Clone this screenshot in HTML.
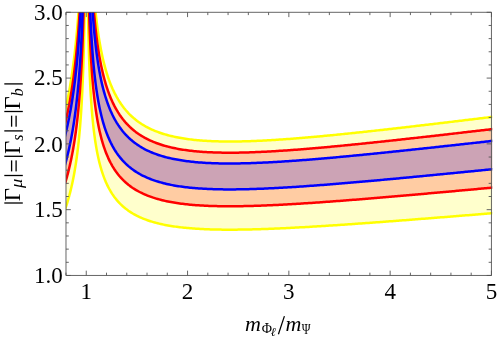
<!DOCTYPE html><html><head><meta charset="utf-8"><style>
html,body{margin:0;padding:0;background:#fff}
#w{position:relative;width:498px;height:340px;overflow:hidden;background:#fff;font-family:"Liberation Serif",serif;color:#000}
.t{position:absolute;white-space:nowrap;line-height:1;will-change:transform}
</style></head><body><div id="w">
<svg width="498" height="340" viewBox="0 0 498 340" style="position:absolute;left:0;top:0">
<defs><clipPath id="c"><rect x="65.99" y="12.30" width="426.26" height="263.16"/></clipPath></defs>
<g clip-path="url(#c)">
<path d="M63.96 115.97 L64.28 114.68 L64.59 113.37 L64.90 112.03 L65.21 110.67 L65.52 109.30 L65.83 107.89 L66.15 106.47 L66.46 105.02 L66.77 103.54 L67.08 102.04 L67.39 100.51 L67.70 98.95 L68.02 97.36 L68.33 95.74 L68.64 94.09 L68.95 92.41 L69.26 90.69 L69.57 88.94 L69.89 87.14 L70.20 85.31 L70.51 83.44 L70.82 81.53 L71.13 79.57 L71.44 77.57 L71.76 75.51 L72.07 73.41 L72.38 71.25 L72.69 69.03 L73.00 66.76 L73.31 64.42 L73.63 62.02 L73.94 59.55 L74.25 57.00 L74.56 54.38 L74.87 51.68 L75.18 48.88 L75.50 45.99 L75.81 43.01 L76.12 39.91 L76.52 35.73 L76.91 31.52 L77.29 27.27 L77.64 22.99 L77.99 18.68 L78.32 14.34 L78.63 9.96 L78.94 5.55 L79.23 1.11 L79.51 -3.38 L79.78 -7.89 L80.04 -12.45 L80.29 -17.04 L80.52 -21.68 L80.75 -26.35 L80.97 -31.06 L81.18 -35.81 L81.38 -40.60 L81.58 -45.44 L81.77 -50.32 L81.94 -55.24 L82.12 -60.21 L82.28 -65.22 L82.44 -66.65 L82.59 -66.65 L82.74 -66.65 L82.88 -66.65 L83.01 -66.65 L83.14 -66.65 L83.27 -66.65 L83.39 -66.65 L83.50 -66.65 L83.61 -66.65 L83.72 -66.65 L83.82 -66.65 L83.91 -66.65 L84.01 -66.65 L84.10 -66.65 L84.18 -66.65 L84.26 -66.65 L84.34 -66.65 L84.42 -66.65 L84.49 -66.65 L84.56 -66.65 L84.63 -66.65 L84.70 -66.65 L84.76 -66.65 L84.82 -66.65 L84.87 -66.65 L84.93 -66.65 L84.98 -66.65 L85.03 -66.65 L85.08 -66.65 L85.13 -66.65 L85.17 -66.65 L85.22 -66.65 L85.26 -66.65 L85.30 -66.65 L85.33 -66.65 L85.37 -66.65 L85.41 -66.65 L85.44 -66.65 L85.47 -66.65 L85.50 -66.65 L85.53 -66.65 L85.56 -66.65 L85.59 -66.65 L85.62 -66.65 L85.64 -66.65 L85.67 -66.65 L85.69 -66.65 L85.71 -66.65 L85.73 -66.65 L85.75 -66.65 L85.77 -66.65 L85.79 -66.65 L85.81 -66.65 L85.83 -66.65 L85.84 -66.65 L85.84 -66.65 L85.83 -66.65 L85.81 -66.65 L85.79 -66.65 L85.77 -66.65 L85.75 -66.65 L85.73 -66.65 L85.71 -66.65 L85.69 -66.65 L85.67 -66.65 L85.64 -66.65 L85.62 -66.65 L85.59 -66.65 L85.56 -66.65 L85.53 -66.65 L85.50 -66.65 L85.47 -66.65 L85.44 -66.65 L85.41 -62.64 L85.37 -57.78 L85.33 -52.97 L85.30 -48.21 L85.26 -43.50 L85.22 -38.84 L85.17 -34.22 L85.13 -29.66 L85.08 -25.14 L85.03 -20.66 L84.98 -16.23 L84.93 -11.85 L84.87 -7.51 L84.82 -3.21 L84.76 1.04 L84.70 5.25 L84.63 9.42 L84.56 13.54 L84.49 17.63 L84.42 21.68 L84.34 25.68 L84.26 29.65 L84.18 33.58 L84.10 37.47 L84.01 41.32 L83.91 45.13 L83.82 48.91 L83.72 52.66 L83.61 56.36 L83.50 60.03 L83.39 63.67 L83.27 67.27 L83.14 70.84 L83.01 74.38 L82.88 77.88 L82.74 81.35 L82.59 84.79 L82.44 88.20 L82.28 91.58 L82.12 94.93 L81.94 98.24 L81.77 101.53 L81.58 104.79 L81.38 108.02 L81.18 111.22 L80.97 114.40 L80.75 117.54 L80.52 120.66 L80.29 123.76 L80.04 126.83 L79.78 129.87 L79.51 132.89 L79.23 135.88 L78.94 138.85 L78.63 141.80 L78.32 144.72 L77.99 147.62 L77.64 150.50 L77.29 153.36 L76.91 156.19 L76.52 159.01 L76.12 161.80 L75.81 163.87 L75.50 165.87 L75.18 167.79 L74.87 169.66 L74.56 171.47 L74.25 173.22 L73.94 174.92 L73.63 176.57 L73.31 178.18 L73.00 179.74 L72.69 181.26 L72.38 182.74 L72.07 184.18 L71.76 185.58 L71.44 186.96 L71.13 188.29 L70.82 189.60 L70.51 190.88 L70.20 192.13 L69.89 193.35 L69.57 194.55 L69.26 195.72 L68.95 196.87 L68.64 197.99 L68.33 199.10 L68.02 200.18 L67.70 201.24 L67.39 202.28 L67.08 203.30 L66.77 204.31 L66.46 205.29 L66.15 206.26 L65.83 207.21 L65.52 208.15 L65.21 209.07 L64.90 209.98 L64.59 210.87 L64.28 211.75 L63.96 212.61Z M86.66 -66.65 L86.67 -66.65 L86.69 -66.65 L86.70 -66.65 L86.72 -66.65 L86.74 -66.65 L86.75 -66.65 L86.77 -66.65 L86.79 -66.65 L86.81 -66.65 L86.83 -66.65 L86.85 -66.65 L86.88 -66.65 L86.90 -66.65 L86.92 -66.65 L86.95 -66.65 L86.97 -66.65 L87.00 -66.65 L87.03 -66.65 L87.06 -66.65 L87.09 -66.65 L87.12 -66.65 L87.15 -66.65 L87.18 -66.65 L87.22 -66.65 L87.25 -66.65 L87.29 -66.65 L87.33 -66.65 L87.37 -66.65 L87.41 -66.65 L87.45 -66.65 L87.50 -66.65 L87.54 -66.65 L87.59 -66.65 L87.64 -66.65 L87.69 -66.65 L87.75 -66.65 L87.80 -66.65 L87.86 -66.65 L87.92 -66.65 L87.98 -66.65 L88.04 -66.65 L88.11 -66.65 L88.18 -66.65 L88.25 -66.65 L88.32 -66.65 L88.40 -66.65 L88.48 -66.65 L88.56 -66.65 L88.65 -66.65 L88.74 -66.65 L88.83 -66.65 L88.92 -66.65 L89.02 -66.65 L89.12 -66.65 L89.23 -66.65 L89.34 -66.65 L89.45 -66.65 L89.57 -66.65 L89.70 -66.65 L89.82 -66.65 L89.96 -66.65 L90.09 -66.65 L90.23 -66.65 L90.38 -66.65 L90.53 -66.17 L90.69 -62.11 L90.86 -58.08 L91.03 -54.10 L91.20 -50.16 L91.39 -46.26 L91.58 -42.41 L91.77 -38.59 L91.98 -34.81 L92.19 -31.08 L92.41 -27.38 L92.64 -23.72 L92.87 -20.11 L93.12 -16.53 L93.37 -13.00 L93.63 -9.50 L93.91 -6.04 L94.19 -2.62 L94.48 0.76 L94.79 4.10 L95.10 7.40 L95.43 10.67 L95.77 13.89 L96.12 17.08 L96.48 20.23 L96.86 23.34 L97.25 26.41 L97.66 29.44 L98.08 32.44 L98.52 35.39 L98.97 38.31 L99.44 41.19 L99.93 44.04 L100.44 46.84 L100.96 49.61 L101.50 52.34 L102.07 55.03 L102.65 57.68 L103.26 60.29 L103.89 62.87 L104.54 65.41 L105.21 67.91 L105.91 70.37 L106.64 72.80 L107.39 75.18 L108.17 77.53 L108.98 79.84 L109.82 82.11 L110.69 84.34 L111.60 86.53 L112.53 88.69 L113.51 90.80 L114.51 92.88 L115.56 94.91 L116.64 96.91 L118.11 99.45 L119.57 101.80 L121.04 104.00 L122.51 106.05 L123.97 107.98 L125.44 109.78 L126.91 111.47 L128.37 113.06 L129.84 114.57 L131.31 115.98 L132.77 117.32 L134.24 118.58 L135.71 119.78 L137.17 120.91 L138.64 121.98 L140.11 123.00 L141.57 123.97 L143.04 124.89 L144.51 125.76 L145.97 126.59 L147.44 127.38 L148.91 128.13 L150.37 128.84 L151.84 129.52 L153.31 130.17 L154.77 130.79 L156.24 131.38 L157.71 131.94 L159.17 132.48 L160.64 132.99 L162.11 133.48 L163.57 133.94 L165.04 134.39 L166.51 134.81 L167.97 135.21 L169.44 135.60 L170.91 135.96 L172.37 136.31 L173.84 136.64 L175.31 136.96 L176.77 137.26 L178.24 137.55 L179.71 137.82 L181.17 138.08 L182.64 138.33 L184.11 138.56 L185.57 138.78 L187.04 138.99 L188.51 139.19 L189.97 139.38 L191.44 139.56 L192.91 139.73 L194.38 139.89 L195.84 140.04 L197.31 140.18 L198.78 140.31 L200.24 140.44 L201.71 140.55 L203.18 140.66 L204.64 140.76 L206.11 140.85 L207.58 140.94 L209.04 141.02 L210.51 141.09 L211.98 141.16 L213.44 141.22 L214.91 141.27 L216.38 141.32 L217.84 141.36 L219.31 141.40 L220.78 141.43 L222.24 141.45 L223.71 141.47 L225.18 141.49 L226.64 141.50 L228.11 141.51 L229.58 141.51 L231.04 141.51 L232.51 141.50 L233.98 141.49 L235.44 141.48 L236.91 141.46 L238.38 141.44 L239.84 141.41 L241.31 141.38 L242.78 141.35 L244.24 141.31 L245.71 141.27 L247.18 141.23 L248.64 141.18 L250.11 141.13 L251.58 141.08 L253.04 141.03 L254.51 140.97 L255.98 140.91 L257.44 140.84 L258.91 140.78 L260.38 140.71 L261.84 140.64 L263.31 140.56 L264.78 140.49 L266.24 140.41 L267.71 140.33 L269.18 140.25 L270.64 140.16 L272.11 140.07 L273.58 139.99 L275.04 139.89 L276.51 139.80 L277.98 139.71 L279.44 139.61 L280.91 139.51 L282.38 139.41 L283.84 139.31 L285.31 139.20 L286.78 139.10 L288.24 138.99 L289.71 138.88 L291.18 138.77 L292.64 138.66 L294.11 138.54 L295.58 138.43 L297.04 138.31 L298.51 138.19 L299.98 138.07 L301.44 137.95 L302.91 137.83 L304.38 137.71 L305.84 137.58 L307.31 137.46 L308.78 137.33 L310.24 137.20 L311.71 137.07 L313.18 136.94 L314.64 136.81 L316.11 136.68 L317.58 136.54 L319.04 136.41 L320.51 136.27 L321.98 136.14 L323.44 136.00 L324.91 135.86 L326.38 135.72 L327.84 135.58 L329.31 135.44 L330.78 135.30 L332.24 135.15 L333.71 135.01 L335.18 134.87 L336.64 134.72 L338.11 134.57 L339.58 134.43 L341.04 134.28 L342.51 134.13 L343.98 133.98 L345.45 133.83 L346.91 133.68 L348.38 133.53 L349.85 133.38 L351.31 133.22 L352.78 133.07 L354.25 132.92 L355.71 132.76 L357.18 132.61 L358.65 132.45 L360.11 132.30 L361.58 132.14 L363.05 131.98 L364.51 131.82 L365.98 131.67 L367.45 131.51 L368.91 131.35 L370.38 131.19 L371.85 131.03 L373.31 130.87 L374.78 130.71 L376.25 130.54 L377.71 130.38 L379.18 130.22 L380.65 130.06 L382.11 129.89 L383.58 129.73 L385.05 129.56 L386.51 129.40 L387.98 129.23 L389.45 129.07 L390.91 128.90 L392.38 128.74 L393.85 128.57 L395.31 128.40 L396.78 128.24 L398.25 128.07 L399.71 127.90 L401.18 127.73 L402.65 127.56 L404.11 127.40 L405.58 127.23 L407.05 127.06 L408.51 126.89 L409.98 126.72 L411.45 126.55 L412.91 126.38 L414.38 126.21 L415.85 126.03 L417.31 125.86 L418.78 125.69 L420.25 125.52 L421.71 125.35 L423.18 125.18 L424.65 125.00 L426.11 124.83 L427.58 124.66 L429.05 124.49 L430.51 124.31 L431.98 124.14 L433.45 123.97 L434.91 123.79 L436.38 123.62 L437.85 123.44 L439.31 123.27 L440.78 123.10 L442.25 122.92 L443.71 122.75 L445.18 122.57 L446.65 122.40 L448.11 122.22 L449.58 122.05 L451.05 121.87 L452.51 121.69 L453.98 121.52 L455.45 121.34 L456.91 121.17 L458.38 120.99 L459.85 120.81 L461.31 120.64 L462.78 120.46 L464.25 120.28 L465.71 120.11 L467.18 119.93 L468.65 119.75 L470.11 119.58 L471.58 119.40 L473.05 119.22 L474.51 119.05 L475.98 118.87 L477.45 118.69 L478.91 118.51 L480.38 118.34 L481.85 118.16 L483.31 117.98 L484.78 117.80 L486.25 117.62 L487.71 117.45 L489.18 117.27 L490.65 117.09 L492.11 116.91 L493.58 116.73 L495.05 116.56 L496.51 116.38 L496.51 212.88 L495.05 213.00 L493.58 213.12 L492.11 213.24 L490.65 213.36 L489.18 213.48 L487.71 213.59 L486.25 213.71 L484.78 213.83 L483.31 213.95 L481.85 214.07 L480.38 214.19 L478.91 214.31 L477.45 214.43 L475.98 214.54 L474.51 214.66 L473.05 214.78 L471.58 214.90 L470.11 215.02 L468.65 215.14 L467.18 215.25 L465.71 215.37 L464.25 215.49 L462.78 215.61 L461.31 215.73 L459.85 215.84 L458.38 215.96 L456.91 216.08 L455.45 216.20 L453.98 216.31 L452.51 216.43 L451.05 216.55 L449.58 216.67 L448.11 216.78 L446.65 216.90 L445.18 217.02 L443.71 217.13 L442.25 217.25 L440.78 217.37 L439.31 217.48 L437.85 217.60 L436.38 217.72 L434.91 217.83 L433.45 217.95 L431.98 218.07 L430.51 218.18 L429.05 218.30 L427.58 218.41 L426.11 218.53 L424.65 218.64 L423.18 218.76 L421.71 218.87 L420.25 218.99 L418.78 219.10 L417.31 219.22 L415.85 219.33 L414.38 219.45 L412.91 219.56 L411.45 219.67 L409.98 219.79 L408.51 219.90 L407.05 220.01 L405.58 220.13 L404.11 220.24 L402.65 220.35 L401.18 220.47 L399.71 220.58 L398.25 220.69 L396.78 220.80 L395.31 220.91 L393.85 221.03 L392.38 221.14 L390.91 221.25 L389.45 221.36 L387.98 221.47 L386.51 221.58 L385.05 221.69 L383.58 221.80 L382.11 221.91 L380.65 222.02 L379.18 222.13 L377.71 222.24 L376.25 222.34 L374.78 222.45 L373.31 222.56 L371.85 222.67 L370.38 222.77 L368.91 222.88 L367.45 222.99 L365.98 223.09 L364.51 223.20 L363.05 223.30 L361.58 223.41 L360.11 223.51 L358.65 223.62 L357.18 223.72 L355.71 223.83 L354.25 223.93 L352.78 224.03 L351.31 224.13 L349.85 224.24 L348.38 224.34 L346.91 224.44 L345.45 224.54 L343.98 224.64 L342.51 224.74 L341.04 224.84 L339.58 224.94 L338.11 225.04 L336.64 225.13 L335.18 225.23 L333.71 225.33 L332.24 225.42 L330.78 225.52 L329.31 225.61 L327.84 225.71 L326.38 225.80 L324.91 225.90 L323.44 225.99 L321.98 226.08 L320.51 226.17 L319.04 226.26 L317.58 226.35 L316.11 226.44 L314.64 226.53 L313.18 226.62 L311.71 226.70 L310.24 226.79 L308.78 226.88 L307.31 226.96 L305.84 227.05 L304.38 227.13 L302.91 227.21 L301.44 227.29 L299.98 227.37 L298.51 227.45 L297.04 227.53 L295.58 227.61 L294.11 227.69 L292.64 227.76 L291.18 227.84 L289.71 227.91 L288.24 227.98 L286.78 228.06 L285.31 228.13 L283.84 228.20 L282.38 228.27 L280.91 228.33 L279.44 228.40 L277.98 228.46 L276.51 228.53 L275.04 228.59 L273.58 228.65 L272.11 228.71 L270.64 228.77 L269.18 228.83 L267.71 228.88 L266.24 228.93 L264.78 228.99 L263.31 229.04 L261.84 229.09 L260.38 229.13 L258.91 229.18 L257.44 229.22 L255.98 229.27 L254.51 229.31 L253.04 229.35 L251.58 229.38 L250.11 229.42 L248.64 229.45 L247.18 229.48 L245.71 229.51 L244.24 229.54 L242.78 229.56 L241.31 229.58 L239.84 229.60 L238.38 229.62 L236.91 229.64 L235.44 229.65 L233.98 229.66 L232.51 229.66 L231.04 229.67 L229.58 229.67 L228.11 229.67 L226.64 229.66 L225.18 229.66 L223.71 229.65 L222.24 229.63 L220.78 229.61 L219.31 229.59 L217.84 229.57 L216.38 229.54 L214.91 229.51 L213.44 229.47 L211.98 229.43 L210.51 229.39 L209.04 229.34 L207.58 229.29 L206.11 229.23 L204.64 229.17 L203.18 229.10 L201.71 229.03 L200.24 228.95 L198.78 228.87 L197.31 228.78 L195.84 228.69 L194.38 228.59 L192.91 228.48 L191.44 228.37 L189.97 228.25 L188.51 228.12 L187.04 227.99 L185.57 227.85 L184.11 227.70 L182.64 227.54 L181.17 227.38 L179.71 227.21 L178.24 227.02 L176.77 226.83 L175.31 226.63 L173.84 226.42 L172.37 226.20 L170.91 225.96 L169.44 225.72 L167.97 225.46 L166.51 225.19 L165.04 224.91 L163.57 224.61 L162.11 224.30 L160.64 223.98 L159.17 223.64 L157.71 223.28 L156.24 222.90 L154.77 222.51 L153.31 222.10 L151.84 221.66 L150.37 221.21 L148.91 220.73 L147.44 220.23 L145.97 219.70 L144.51 219.15 L143.04 218.56 L141.57 217.95 L140.11 217.30 L138.64 216.62 L137.17 215.91 L135.71 215.15 L134.24 214.35 L132.77 213.51 L131.31 212.62 L129.84 211.67 L128.37 210.67 L126.91 209.60 L125.44 208.47 L123.97 207.27 L122.51 205.98 L121.04 204.61 L119.57 203.14 L118.11 201.57 L116.64 199.88 L115.56 198.54 L114.51 197.18 L113.51 195.80 L112.53 194.38 L111.60 192.95 L110.69 191.48 L109.82 189.99 L108.98 188.47 L108.17 186.93 L107.39 185.36 L106.64 183.77 L105.91 182.15 L105.21 180.51 L104.54 178.84 L103.89 177.14 L103.26 175.42 L102.65 173.67 L102.07 171.90 L101.50 170.10 L100.96 168.28 L100.44 166.43 L99.93 164.56 L99.44 162.66 L98.97 160.73 L98.52 158.78 L98.08 156.81 L97.66 154.81 L97.25 152.78 L96.86 150.73 L96.48 148.65 L96.12 146.55 L95.77 144.42 L95.43 142.27 L95.10 140.09 L94.79 137.88 L94.48 135.65 L94.19 133.39 L93.91 131.11 L93.63 128.80 L93.37 126.46 L93.12 124.10 L92.87 121.71 L92.64 119.29 L92.41 116.85 L92.19 114.38 L91.98 111.89 L91.77 109.36 L91.58 106.81 L91.39 104.24 L91.20 101.63 L91.03 99.00 L90.86 96.34 L90.69 93.65 L90.53 90.94 L90.38 88.20 L90.23 85.43 L90.09 82.63 L89.96 79.80 L89.82 76.94 L89.70 74.06 L89.57 71.14 L89.45 68.20 L89.34 65.23 L89.23 62.22 L89.12 59.19 L89.02 56.13 L88.92 53.04 L88.83 49.92 L88.74 46.77 L88.65 43.58 L88.56 40.37 L88.48 37.13 L88.40 33.85 L88.32 30.55 L88.25 27.21 L88.18 23.84 L88.11 20.44 L88.04 17.00 L87.98 13.54 L87.92 10.04 L87.86 6.51 L87.80 2.95 L87.75 -0.65 L87.69 -4.28 L87.64 -7.94 L87.59 -11.64 L87.54 -15.37 L87.50 -19.14 L87.45 -22.94 L87.41 -26.77 L87.37 -30.64 L87.33 -34.54 L87.29 -38.48 L87.25 -42.46 L87.22 -46.47 L87.18 -50.51 L87.15 -54.59 L87.12 -58.71 L87.09 -62.87 L87.06 -66.65 L87.03 -66.65 L87.00 -66.65 L86.97 -66.65 L86.95 -66.65 L86.92 -66.65 L86.90 -66.65 L86.88 -66.65 L86.85 -66.65 L86.83 -66.65 L86.81 -66.65 L86.79 -66.65 L86.77 -66.65 L86.75 -66.65 L86.74 -66.65 L86.72 -66.65 L86.70 -66.65 L86.69 -66.65 L86.67 -66.65 L86.66 -66.65Z" fill="#ffff00" fill-opacity="0.2"/>
<path d="M63.96 128.23 L64.28 127.00 L64.59 125.74 L64.90 124.46 L65.21 123.16 L65.52 121.84 L65.83 120.49 L66.15 119.13 L66.46 117.74 L66.77 116.32 L67.08 114.88 L67.39 113.42 L67.70 111.93 L68.02 110.41 L68.33 108.85 L68.64 107.27 L68.95 105.66 L69.26 104.01 L69.57 102.33 L69.89 100.62 L70.20 98.87 L70.51 97.07 L70.82 95.24 L71.13 93.36 L71.44 91.44 L71.76 89.48 L72.07 87.46 L72.38 85.39 L72.69 83.27 L73.00 81.09 L73.31 78.86 L73.63 76.55 L73.94 74.19 L74.25 71.75 L74.56 69.24 L74.87 66.64 L75.18 63.97 L75.50 61.20 L75.81 58.34 L76.12 55.38 L76.52 51.37 L76.91 47.33 L77.29 43.27 L77.64 39.17 L77.99 35.04 L78.32 30.88 L78.63 26.69 L78.94 22.46 L79.23 18.20 L79.51 13.91 L79.78 9.58 L80.04 5.22 L80.29 0.82 L80.52 -3.62 L80.75 -8.09 L80.97 -12.61 L81.18 -17.16 L81.38 -21.75 L81.58 -26.38 L81.77 -31.05 L81.94 -35.77 L82.12 -40.52 L82.28 -45.32 L82.44 -50.17 L82.59 -55.05 L82.74 -59.99 L82.88 -64.96 L83.01 -66.65 L83.14 -66.65 L83.27 -66.65 L83.39 -66.65 L83.50 -66.65 L83.61 -66.65 L83.72 -66.65 L83.82 -66.65 L83.91 -66.65 L84.01 -66.65 L84.10 -66.65 L84.18 -66.65 L84.26 -66.65 L84.34 -66.65 L84.42 -66.65 L84.49 -66.65 L84.56 -66.65 L84.63 -66.65 L84.70 -66.65 L84.76 -66.65 L84.82 -66.65 L84.87 -66.65 L84.93 -66.65 L84.98 -66.65 L85.03 -66.65 L85.08 -66.65 L85.13 -66.65 L85.17 -66.65 L85.22 -66.65 L85.26 -66.65 L85.30 -66.65 L85.33 -66.65 L85.37 -66.65 L85.41 -66.65 L85.44 -66.65 L85.47 -66.65 L85.50 -66.65 L85.53 -66.65 L85.56 -66.65 L85.59 -66.65 L85.62 -66.65 L85.64 -66.65 L85.67 -66.65 L85.69 -66.65 L85.71 -66.65 L85.73 -66.65 L85.75 -66.65 L85.77 -66.65 L85.79 -66.65 L85.81 -66.65 L85.83 -66.65 L85.84 -66.65 L85.84 -66.65 L85.83 -66.65 L85.81 -66.65 L85.79 -66.65 L85.77 -66.65 L85.75 -66.65 L85.73 -66.65 L85.71 -66.65 L85.69 -66.65 L85.67 -66.65 L85.64 -66.65 L85.62 -66.65 L85.59 -66.65 L85.56 -66.65 L85.53 -66.65 L85.50 -66.65 L85.47 -66.65 L85.44 -66.65 L85.41 -66.65 L85.37 -66.65 L85.33 -66.65 L85.30 -66.65 L85.26 -66.65 L85.22 -66.65 L85.17 -66.65 L85.13 -66.65 L85.08 -66.65 L85.03 -66.65 L84.98 -66.65 L84.93 -66.65 L84.87 -62.25 L84.82 -57.39 L84.76 -52.57 L84.70 -47.81 L84.63 -43.09 L84.56 -38.42 L84.49 -33.79 L84.42 -29.21 L84.34 -24.68 L84.26 -20.19 L84.18 -15.74 L84.10 -11.33 L84.01 -6.97 L83.91 -2.65 L83.82 1.62 L83.72 5.86 L83.61 10.06 L83.50 14.21 L83.39 18.33 L83.27 22.41 L83.14 26.45 L83.01 30.45 L82.88 34.42 L82.74 38.35 L82.59 42.24 L82.44 46.10 L82.28 49.92 L82.12 53.71 L81.94 57.47 L81.77 61.19 L81.58 64.88 L81.38 68.53 L81.18 72.16 L80.97 75.75 L80.75 79.31 L80.52 82.85 L80.29 86.35 L80.04 89.82 L79.78 93.27 L79.51 96.69 L79.23 100.08 L78.94 103.44 L78.63 106.77 L78.32 110.08 L77.99 113.37 L77.64 116.63 L77.29 119.86 L76.91 123.07 L76.52 126.26 L76.12 129.42 L75.81 131.76 L75.50 134.02 L75.18 136.20 L74.87 138.32 L74.56 140.36 L74.25 142.35 L73.94 144.27 L73.63 146.14 L73.31 147.96 L73.00 149.72 L72.69 151.44 L72.38 153.12 L72.07 154.75 L71.76 156.34 L71.44 157.89 L71.13 159.41 L70.82 160.89 L70.51 162.34 L70.20 163.75 L69.89 165.14 L69.57 166.49 L69.26 167.82 L68.95 169.12 L68.64 170.39 L68.33 171.64 L68.02 172.86 L67.70 174.06 L67.39 175.24 L67.08 176.40 L66.77 177.54 L66.46 178.65 L66.15 179.75 L65.83 180.83 L65.52 181.89 L65.21 182.93 L64.90 183.96 L64.59 184.97 L64.28 185.96 L63.96 186.94Z M86.66 -66.65 L86.67 -66.65 L86.69 -66.65 L86.70 -66.65 L86.72 -66.65 L86.74 -66.65 L86.75 -66.65 L86.77 -66.65 L86.79 -66.65 L86.81 -66.65 L86.83 -66.65 L86.85 -66.65 L86.88 -66.65 L86.90 -66.65 L86.92 -66.65 L86.95 -66.65 L86.97 -66.65 L87.00 -66.65 L87.03 -66.65 L87.06 -66.65 L87.09 -66.65 L87.12 -66.65 L87.15 -66.65 L87.18 -66.65 L87.22 -66.65 L87.25 -66.65 L87.29 -66.65 L87.33 -66.65 L87.37 -66.65 L87.41 -66.65 L87.45 -66.65 L87.50 -66.65 L87.54 -66.65 L87.59 -66.65 L87.64 -66.65 L87.69 -66.65 L87.75 -66.65 L87.80 -66.65 L87.86 -66.65 L87.92 -66.65 L87.98 -66.65 L88.04 -66.65 L88.11 -66.65 L88.18 -66.65 L88.25 -66.65 L88.32 -66.65 L88.40 -66.65 L88.48 -66.65 L88.56 -66.65 L88.65 -66.65 L88.74 -66.65 L88.83 -66.65 L88.92 -66.65 L89.02 -66.65 L89.12 -66.65 L89.23 -66.65 L89.34 -66.65 L89.45 -66.65 L89.57 -66.65 L89.70 -66.65 L89.82 -66.31 L89.96 -62.22 L90.09 -58.16 L90.23 -54.15 L90.38 -50.17 L90.53 -46.24 L90.69 -42.35 L90.86 -38.49 L91.03 -34.68 L91.20 -30.91 L91.39 -27.17 L91.58 -23.48 L91.77 -19.82 L91.98 -16.20 L92.19 -12.62 L92.41 -9.08 L92.64 -5.58 L92.87 -2.12 L93.12 1.31 L93.37 4.70 L93.63 8.05 L93.91 11.36 L94.19 14.63 L94.48 17.87 L94.79 21.07 L95.10 24.24 L95.43 27.36 L95.77 30.45 L96.12 33.50 L96.48 36.52 L96.86 39.50 L97.25 42.44 L97.66 45.35 L98.08 48.21 L98.52 51.05 L98.97 53.84 L99.44 56.60 L99.93 59.33 L100.44 62.01 L100.96 64.66 L101.50 67.28 L102.07 69.85 L102.65 72.40 L103.26 74.90 L103.89 77.37 L104.54 79.80 L105.21 82.20 L105.91 84.55 L106.64 86.88 L107.39 89.16 L108.17 91.41 L108.98 93.62 L109.82 95.80 L110.69 97.93 L111.60 100.03 L112.53 102.10 L113.51 104.12 L114.51 106.11 L115.56 108.06 L116.64 109.97 L118.11 112.40 L119.57 114.66 L121.04 116.76 L122.51 118.73 L123.97 120.57 L125.44 122.30 L126.91 123.92 L128.37 125.45 L129.84 126.88 L131.31 128.24 L132.77 129.52 L134.24 130.73 L135.71 131.88 L137.17 132.96 L138.64 133.99 L140.11 134.96 L141.57 135.89 L143.04 136.77 L144.51 137.61 L145.97 138.40 L147.44 139.16 L148.91 139.88 L150.37 140.56 L151.84 141.21 L153.31 141.84 L154.77 142.43 L156.24 142.99 L157.71 143.53 L159.17 144.04 L160.64 144.53 L162.11 145.00 L163.57 145.45 L165.04 145.87 L166.51 146.28 L167.97 146.66 L169.44 147.03 L170.91 147.38 L172.37 147.71 L173.84 148.03 L175.31 148.34 L176.77 148.63 L178.24 148.90 L179.71 149.16 L181.17 149.41 L182.64 149.65 L184.11 149.87 L185.57 150.08 L187.04 150.28 L188.51 150.48 L189.97 150.66 L191.44 150.83 L192.91 150.99 L194.38 151.14 L195.84 151.29 L197.31 151.42 L198.78 151.55 L200.24 151.67 L201.71 151.78 L203.18 151.88 L204.64 151.98 L206.11 152.06 L207.58 152.15 L209.04 152.22 L210.51 152.29 L211.98 152.36 L213.44 152.41 L214.91 152.46 L216.38 152.51 L217.84 152.55 L219.31 152.59 L220.78 152.62 L222.24 152.64 L223.71 152.66 L225.18 152.68 L226.64 152.69 L228.11 152.69 L229.58 152.70 L231.04 152.69 L232.51 152.69 L233.98 152.68 L235.44 152.66 L236.91 152.65 L238.38 152.63 L239.84 152.60 L241.31 152.57 L242.78 152.54 L244.24 152.51 L245.71 152.47 L247.18 152.43 L248.64 152.38 L250.11 152.33 L251.58 152.28 L253.04 152.23 L254.51 152.18 L255.98 152.12 L257.44 152.06 L258.91 151.99 L260.38 151.93 L261.84 151.86 L263.31 151.79 L264.78 151.72 L266.24 151.64 L267.71 151.56 L269.18 151.48 L270.64 151.40 L272.11 151.32 L273.58 151.23 L275.04 151.15 L276.51 151.06 L277.98 150.97 L279.44 150.87 L280.91 150.78 L282.38 150.68 L283.84 150.58 L285.31 150.48 L286.78 150.38 L288.24 150.28 L289.71 150.17 L291.18 150.07 L292.64 149.96 L294.11 149.85 L295.58 149.74 L297.04 149.63 L298.51 149.52 L299.98 149.40 L301.44 149.29 L302.91 149.17 L304.38 149.05 L305.84 148.93 L307.31 148.81 L308.78 148.69 L310.24 148.57 L311.71 148.44 L313.18 148.32 L314.64 148.19 L316.11 148.07 L317.58 147.94 L319.04 147.81 L320.51 147.68 L321.98 147.55 L323.44 147.42 L324.91 147.28 L326.38 147.15 L327.84 147.01 L329.31 146.88 L330.78 146.74 L332.24 146.61 L333.71 146.47 L335.18 146.33 L336.64 146.19 L338.11 146.05 L339.58 145.91 L341.04 145.77 L342.51 145.63 L343.98 145.48 L345.45 145.34 L346.91 145.19 L348.38 145.05 L349.85 144.90 L351.31 144.76 L352.78 144.61 L354.25 144.46 L355.71 144.32 L357.18 144.17 L358.65 144.02 L360.11 143.87 L361.58 143.72 L363.05 143.57 L364.51 143.42 L365.98 143.26 L367.45 143.11 L368.91 142.96 L370.38 142.81 L371.85 142.65 L373.31 142.50 L374.78 142.34 L376.25 142.19 L377.71 142.03 L379.18 141.88 L380.65 141.72 L382.11 141.57 L383.58 141.41 L385.05 141.25 L386.51 141.09 L387.98 140.94 L389.45 140.78 L390.91 140.62 L392.38 140.46 L393.85 140.30 L395.31 140.14 L396.78 139.98 L398.25 139.82 L399.71 139.66 L401.18 139.50 L402.65 139.34 L404.11 139.17 L405.58 139.01 L407.05 138.85 L408.51 138.69 L409.98 138.52 L411.45 138.36 L412.91 138.20 L414.38 138.03 L415.85 137.87 L417.31 137.71 L418.78 137.54 L420.25 137.38 L421.71 137.21 L423.18 137.05 L424.65 136.88 L426.11 136.72 L427.58 136.55 L429.05 136.39 L430.51 136.22 L431.98 136.06 L433.45 135.89 L434.91 135.72 L436.38 135.56 L437.85 135.39 L439.31 135.22 L440.78 135.06 L442.25 134.89 L443.71 134.72 L445.18 134.55 L446.65 134.39 L448.11 134.22 L449.58 134.05 L451.05 133.88 L452.51 133.71 L453.98 133.54 L455.45 133.38 L456.91 133.21 L458.38 133.04 L459.85 132.87 L461.31 132.70 L462.78 132.53 L464.25 132.36 L465.71 132.19 L467.18 132.02 L468.65 131.85 L470.11 131.69 L471.58 131.52 L473.05 131.35 L474.51 131.18 L475.98 131.01 L477.45 130.84 L478.91 130.67 L480.38 130.50 L481.85 130.33 L483.31 130.16 L484.78 129.98 L486.25 129.81 L487.71 129.64 L489.18 129.47 L490.65 129.30 L492.11 129.13 L493.58 128.96 L495.05 128.79 L496.51 128.62 L496.51 187.24 L495.05 187.38 L493.58 187.51 L492.11 187.65 L490.65 187.78 L489.18 187.92 L487.71 188.05 L486.25 188.19 L484.78 188.32 L483.31 188.45 L481.85 188.59 L480.38 188.72 L478.91 188.86 L477.45 188.99 L475.98 189.13 L474.51 189.26 L473.05 189.39 L471.58 189.53 L470.11 189.66 L468.65 189.80 L467.18 189.93 L465.71 190.06 L464.25 190.20 L462.78 190.33 L461.31 190.46 L459.85 190.60 L458.38 190.73 L456.91 190.86 L455.45 191.00 L453.98 191.13 L452.51 191.26 L451.05 191.40 L449.58 191.53 L448.11 191.66 L446.65 191.79 L445.18 191.93 L443.71 192.06 L442.25 192.19 L440.78 192.32 L439.31 192.45 L437.85 192.59 L436.38 192.72 L434.91 192.85 L433.45 192.98 L431.98 193.11 L430.51 193.24 L429.05 193.37 L427.58 193.50 L426.11 193.64 L424.65 193.77 L423.18 193.90 L421.71 194.03 L420.25 194.16 L418.78 194.29 L417.31 194.42 L415.85 194.55 L414.38 194.67 L412.91 194.80 L411.45 194.93 L409.98 195.06 L408.51 195.19 L407.05 195.32 L405.58 195.45 L404.11 195.57 L402.65 195.70 L401.18 195.83 L399.71 195.96 L398.25 196.08 L396.78 196.21 L395.31 196.34 L393.85 196.46 L392.38 196.59 L390.91 196.71 L389.45 196.84 L387.98 196.96 L386.51 197.09 L385.05 197.21 L383.58 197.34 L382.11 197.46 L380.65 197.59 L379.18 197.71 L377.71 197.83 L376.25 197.95 L374.78 198.08 L373.31 198.20 L371.85 198.32 L370.38 198.44 L368.91 198.56 L367.45 198.68 L365.98 198.80 L364.51 198.92 L363.05 199.04 L361.58 199.16 L360.11 199.28 L358.65 199.40 L357.18 199.52 L355.71 199.63 L354.25 199.75 L352.78 199.87 L351.31 199.98 L349.85 200.10 L348.38 200.21 L346.91 200.33 L345.45 200.44 L343.98 200.55 L342.51 200.67 L341.04 200.78 L339.58 200.89 L338.11 201.00 L336.64 201.11 L335.18 201.22 L333.71 201.33 L332.24 201.44 L330.78 201.55 L329.31 201.66 L327.84 201.76 L326.38 201.87 L324.91 201.98 L323.44 202.08 L321.98 202.18 L320.51 202.29 L319.04 202.39 L317.58 202.49 L316.11 202.59 L314.64 202.69 L313.18 202.79 L311.71 202.89 L310.24 202.99 L308.78 203.09 L307.31 203.18 L305.84 203.28 L304.38 203.37 L302.91 203.47 L301.44 203.56 L299.98 203.65 L298.51 203.74 L297.04 203.83 L295.58 203.92 L294.11 204.00 L292.64 204.09 L291.18 204.17 L289.71 204.26 L288.24 204.34 L286.78 204.42 L285.31 204.50 L283.84 204.58 L282.38 204.66 L280.91 204.73 L279.44 204.81 L277.98 204.88 L276.51 204.96 L275.04 205.03 L273.58 205.09 L272.11 205.16 L270.64 205.23 L269.18 205.29 L267.71 205.36 L266.24 205.42 L264.78 205.48 L263.31 205.53 L261.84 205.59 L260.38 205.64 L258.91 205.69 L257.44 205.74 L255.98 205.79 L254.51 205.84 L253.04 205.88 L251.58 205.92 L250.11 205.96 L248.64 206.00 L247.18 206.04 L245.71 206.07 L244.24 206.10 L242.78 206.13 L241.31 206.15 L239.84 206.17 L238.38 206.19 L236.91 206.21 L235.44 206.22 L233.98 206.23 L232.51 206.24 L231.04 206.25 L229.58 206.25 L228.11 206.25 L226.64 206.24 L225.18 206.23 L223.71 206.22 L222.24 206.21 L220.78 206.19 L219.31 206.16 L217.84 206.13 L216.38 206.10 L214.91 206.07 L213.44 206.03 L211.98 205.98 L210.51 205.93 L209.04 205.88 L207.58 205.82 L206.11 205.75 L204.64 205.68 L203.18 205.60 L201.71 205.52 L200.24 205.44 L198.78 205.34 L197.31 205.24 L195.84 205.14 L194.38 205.02 L192.91 204.90 L191.44 204.77 L189.97 204.64 L188.51 204.50 L187.04 204.35 L185.57 204.19 L184.11 204.02 L182.64 203.84 L181.17 203.65 L179.71 203.46 L178.24 203.25 L176.77 203.04 L175.31 202.81 L173.84 202.57 L172.37 202.32 L170.91 202.05 L169.44 201.78 L167.97 201.49 L166.51 201.18 L165.04 200.86 L163.57 200.53 L162.11 200.17 L160.64 199.81 L159.17 199.42 L157.71 199.01 L156.24 198.59 L154.77 198.14 L153.31 197.68 L151.84 197.18 L150.37 196.67 L148.91 196.13 L147.44 195.56 L145.97 194.96 L144.51 194.34 L143.04 193.68 L141.57 192.98 L140.11 192.25 L138.64 191.48 L137.17 190.67 L135.71 189.81 L134.24 188.91 L132.77 187.95 L131.31 186.94 L129.84 185.87 L128.37 184.74 L126.91 183.53 L125.44 182.25 L123.97 180.89 L122.51 179.44 L121.04 177.88 L119.57 176.22 L118.11 174.44 L116.64 172.52 L115.56 171.01 L114.51 169.47 L113.51 167.90 L112.53 166.30 L111.60 164.68 L110.69 163.02 L109.82 161.33 L108.98 159.61 L108.17 157.87 L107.39 156.09 L106.64 154.29 L105.91 152.45 L105.21 150.59 L104.54 148.70 L103.89 146.78 L103.26 144.83 L102.65 142.86 L102.07 140.85 L101.50 138.81 L100.96 136.75 L100.44 134.66 L99.93 132.54 L99.44 130.39 L98.97 128.21 L98.52 126.00 L98.08 123.77 L97.66 121.50 L97.25 119.21 L96.86 116.89 L96.48 114.53 L96.12 112.15 L95.77 109.74 L95.43 107.30 L95.10 104.84 L94.79 102.34 L94.48 99.81 L94.19 97.26 L93.91 94.67 L93.63 92.06 L93.37 89.41 L93.12 86.74 L92.87 84.03 L92.64 81.30 L92.41 78.53 L92.19 75.74 L91.98 72.91 L91.77 70.06 L91.58 67.17 L91.39 64.25 L91.20 61.31 L91.03 58.33 L90.86 55.32 L90.69 52.27 L90.53 49.20 L90.38 46.09 L90.23 42.96 L90.09 39.79 L89.96 36.59 L89.82 33.35 L89.70 30.09 L89.57 26.79 L89.45 23.46 L89.34 20.09 L89.23 16.69 L89.12 13.26 L89.02 9.79 L88.92 6.29 L88.83 2.76 L88.74 -0.81 L88.65 -4.41 L88.56 -8.05 L88.48 -11.72 L88.40 -15.43 L88.32 -19.17 L88.25 -22.95 L88.18 -26.76 L88.11 -30.61 L88.04 -34.50 L87.98 -38.42 L87.92 -42.38 L87.86 -46.38 L87.80 -50.41 L87.75 -54.49 L87.69 -58.59 L87.64 -62.74 L87.59 -66.65 L87.54 -66.65 L87.50 -66.65 L87.45 -66.65 L87.41 -66.65 L87.37 -66.65 L87.33 -66.65 L87.29 -66.65 L87.25 -66.65 L87.22 -66.65 L87.18 -66.65 L87.15 -66.65 L87.12 -66.65 L87.09 -66.65 L87.06 -66.65 L87.03 -66.65 L87.00 -66.65 L86.97 -66.65 L86.95 -66.65 L86.92 -66.65 L86.90 -66.65 L86.88 -66.65 L86.85 -66.65 L86.83 -66.65 L86.81 -66.65 L86.79 -66.65 L86.77 -66.65 L86.75 -66.65 L86.74 -66.65 L86.72 -66.65 L86.70 -66.65 L86.69 -66.65 L86.67 -66.65 L86.66 -66.65Z" fill="#ff0000" fill-opacity="0.2"/>
<path d="M63.96 140.06 L64.28 138.87 L64.59 137.67 L64.90 136.44 L65.21 135.20 L65.52 133.94 L65.83 132.65 L66.15 131.34 L66.46 130.01 L66.77 128.66 L67.08 127.28 L67.39 125.87 L67.70 124.45 L68.02 122.99 L68.33 121.50 L68.64 119.99 L68.95 118.45 L69.26 116.87 L69.57 115.26 L69.89 113.62 L70.20 111.94 L70.51 110.22 L70.82 108.47 L71.13 106.67 L71.44 104.83 L71.76 102.95 L72.07 101.02 L72.38 99.04 L72.69 97.01 L73.00 94.92 L73.31 92.78 L73.63 90.57 L73.94 88.31 L74.25 85.97 L74.56 83.57 L74.87 81.08 L75.18 78.52 L75.50 75.87 L75.81 73.13 L76.12 70.30 L76.52 66.46 L76.91 62.59 L77.29 58.70 L77.64 54.77 L77.99 50.82 L78.32 46.84 L78.63 42.82 L78.94 38.78 L79.23 34.70 L79.51 30.59 L79.78 26.44 L80.04 22.27 L80.29 18.05 L80.52 13.80 L80.75 9.52 L80.97 5.20 L81.18 0.84 L81.38 -3.56 L81.58 -8.00 L81.77 -12.47 L81.94 -16.98 L82.12 -21.54 L82.28 -26.13 L82.44 -30.77 L82.59 -35.45 L82.74 -40.17 L82.88 -44.94 L83.01 -49.75 L83.14 -54.61 L83.27 -59.51 L83.39 -64.46 L83.50 -66.65 L83.61 -66.65 L83.72 -66.65 L83.82 -66.65 L83.91 -66.65 L84.01 -66.65 L84.10 -66.65 L84.18 -66.65 L84.26 -66.65 L84.34 -66.65 L84.42 -66.65 L84.49 -66.65 L84.56 -66.65 L84.63 -66.65 L84.70 -66.65 L84.76 -66.65 L84.82 -66.65 L84.87 -66.65 L84.93 -66.65 L84.98 -66.65 L85.03 -66.65 L85.08 -66.65 L85.13 -66.65 L85.17 -66.65 L85.22 -66.65 L85.26 -66.65 L85.30 -66.65 L85.33 -66.65 L85.37 -66.65 L85.41 -66.65 L85.44 -66.65 L85.47 -66.65 L85.50 -66.65 L85.53 -66.65 L85.56 -66.65 L85.59 -66.65 L85.62 -66.65 L85.64 -66.65 L85.67 -66.65 L85.69 -66.65 L85.71 -66.65 L85.73 -66.65 L85.75 -66.65 L85.77 -66.65 L85.79 -66.65 L85.81 -66.65 L85.83 -66.65 L85.84 -66.65 L85.84 -66.65 L85.83 -66.65 L85.81 -66.65 L85.79 -66.65 L85.77 -66.65 L85.75 -66.65 L85.73 -66.65 L85.71 -66.65 L85.69 -66.65 L85.67 -66.65 L85.64 -66.65 L85.62 -66.65 L85.59 -66.65 L85.56 -66.65 L85.53 -66.65 L85.50 -66.65 L85.47 -66.65 L85.44 -66.65 L85.41 -66.65 L85.37 -66.65 L85.33 -66.65 L85.30 -66.65 L85.26 -66.65 L85.22 -66.65 L85.17 -66.65 L85.13 -66.65 L85.08 -66.65 L85.03 -66.65 L84.98 -66.65 L84.93 -66.65 L84.87 -66.65 L84.82 -66.65 L84.76 -66.65 L84.70 -66.65 L84.63 -66.65 L84.56 -66.65 L84.49 -66.65 L84.42 -65.80 L84.34 -60.89 L84.26 -56.02 L84.18 -51.20 L84.10 -46.43 L84.01 -41.70 L83.91 -37.02 L83.82 -32.38 L83.72 -27.79 L83.61 -23.24 L83.50 -18.74 L83.39 -14.27 L83.27 -9.85 L83.14 -5.47 L83.01 -1.14 L82.88 3.16 L82.74 7.42 L82.59 11.64 L82.44 15.82 L82.28 19.97 L82.12 24.07 L81.94 28.14 L81.77 32.18 L81.58 36.18 L81.38 40.14 L81.18 44.07 L80.97 47.96 L80.75 51.83 L80.52 55.65 L80.29 59.45 L80.04 63.22 L79.78 66.95 L79.51 70.65 L79.23 74.33 L78.94 77.97 L78.63 81.59 L78.32 85.17 L77.99 88.73 L77.64 92.27 L77.29 95.77 L76.91 99.25 L76.52 102.71 L76.12 106.14 L75.81 108.67 L75.50 111.12 L75.18 113.48 L74.87 115.77 L74.56 117.99 L74.25 120.14 L73.94 122.23 L73.63 124.26 L73.31 126.22 L73.00 128.14 L72.69 130.00 L72.38 131.82 L72.07 133.59 L71.76 135.31 L71.44 137.00 L71.13 138.64 L70.82 140.24 L70.51 141.81 L70.20 143.35 L69.89 144.85 L69.57 146.31 L69.26 147.75 L68.95 149.16 L68.64 150.54 L68.33 151.89 L68.02 153.22 L67.70 154.52 L67.39 155.80 L67.08 157.05 L66.77 158.28 L66.46 159.49 L66.15 160.68 L65.83 161.85 L65.52 163.00 L65.21 164.13 L64.90 165.24 L64.59 166.34 L64.28 167.42 L63.96 168.48Z M86.66 -66.65 L86.67 -66.65 L86.69 -66.65 L86.70 -66.65 L86.72 -66.65 L86.74 -66.65 L86.75 -66.65 L86.77 -66.65 L86.79 -66.65 L86.81 -66.65 L86.83 -66.65 L86.85 -66.65 L86.88 -66.65 L86.90 -66.65 L86.92 -66.65 L86.95 -66.65 L86.97 -66.65 L87.00 -66.65 L87.03 -66.65 L87.06 -66.65 L87.09 -66.65 L87.12 -66.65 L87.15 -66.65 L87.18 -66.65 L87.22 -66.65 L87.25 -66.65 L87.29 -66.65 L87.33 -66.65 L87.37 -66.65 L87.41 -66.65 L87.45 -66.65 L87.50 -66.65 L87.54 -66.65 L87.59 -66.65 L87.64 -66.65 L87.69 -66.65 L87.75 -66.65 L87.80 -66.65 L87.86 -66.65 L87.92 -66.65 L87.98 -66.65 L88.04 -66.65 L88.11 -66.65 L88.18 -66.65 L88.25 -66.65 L88.32 -66.65 L88.40 -66.65 L88.48 -66.65 L88.56 -66.65 L88.65 -66.65 L88.74 -66.65 L88.83 -66.65 L88.92 -66.65 L89.02 -66.65 L89.12 -66.65 L89.23 -66.44 L89.34 -62.32 L89.45 -58.24 L89.57 -54.20 L89.70 -50.19 L89.82 -46.23 L89.96 -42.31 L90.09 -38.43 L90.23 -34.58 L90.38 -30.78 L90.53 -27.01 L90.69 -23.28 L90.86 -19.59 L91.03 -15.94 L91.20 -12.33 L91.39 -8.75 L91.58 -5.21 L91.77 -1.71 L91.98 1.75 L92.19 5.18 L92.41 8.57 L92.64 11.92 L92.87 15.24 L93.12 18.52 L93.37 21.76 L93.63 24.97 L93.91 28.14 L94.19 31.28 L94.48 34.38 L94.79 37.45 L95.10 40.47 L95.43 43.47 L95.77 46.43 L96.12 49.35 L96.48 52.24 L96.86 55.09 L97.25 57.91 L97.66 60.69 L98.08 63.44 L98.52 66.15 L98.97 68.83 L99.44 71.47 L99.93 74.08 L100.44 76.65 L100.96 79.19 L101.50 81.69 L102.07 84.16 L102.65 86.59 L103.26 88.99 L103.89 91.35 L104.54 93.68 L105.21 95.98 L105.91 98.23 L106.64 100.46 L107.39 102.65 L108.17 104.80 L108.98 106.92 L109.82 109.00 L110.69 111.05 L111.60 113.06 L112.53 115.03 L113.51 116.97 L114.51 118.88 L115.56 120.74 L116.64 122.58 L118.11 124.90 L119.57 127.06 L121.04 129.08 L122.51 130.96 L123.97 132.72 L125.44 134.38 L126.91 135.93 L128.37 137.39 L129.84 138.77 L131.31 140.07 L132.77 141.29 L134.24 142.45 L135.71 143.55 L137.17 144.59 L138.64 145.57 L140.11 146.51 L141.57 147.39 L143.04 148.23 L144.51 149.04 L145.97 149.80 L147.44 150.52 L148.91 151.21 L150.37 151.87 L151.84 152.49 L153.31 153.09 L154.77 153.65 L156.24 154.19 L157.71 154.71 L159.17 155.20 L160.64 155.67 L162.11 156.12 L163.57 156.54 L165.04 156.95 L166.51 157.34 L167.97 157.71 L169.44 158.06 L170.91 158.40 L172.37 158.72 L173.84 159.02 L175.31 159.31 L176.77 159.59 L178.24 159.85 L179.71 160.10 L181.17 160.34 L182.64 160.57 L184.11 160.78 L185.57 160.98 L187.04 161.18 L188.51 161.36 L189.97 161.53 L191.44 161.70 L192.91 161.85 L194.38 162.00 L195.84 162.13 L197.31 162.26 L198.78 162.38 L200.24 162.50 L201.71 162.60 L203.18 162.70 L204.64 162.80 L206.11 162.88 L207.58 162.96 L209.04 163.03 L210.51 163.10 L211.98 163.16 L213.44 163.21 L214.91 163.26 L216.38 163.31 L217.84 163.35 L219.31 163.38 L220.78 163.41 L222.24 163.43 L223.71 163.45 L225.18 163.47 L226.64 163.48 L228.11 163.48 L229.58 163.49 L231.04 163.48 L232.51 163.48 L233.98 163.47 L235.44 163.45 L236.91 163.44 L238.38 163.42 L239.84 163.39 L241.31 163.37 L242.78 163.34 L244.24 163.30 L245.71 163.27 L247.18 163.23 L248.64 163.18 L250.11 163.14 L251.58 163.09 L253.04 163.04 L254.51 162.99 L255.98 162.93 L257.44 162.87 L258.91 162.81 L260.38 162.75 L261.84 162.68 L263.31 162.62 L264.78 162.55 L266.24 162.48 L267.71 162.40 L269.18 162.33 L270.64 162.25 L272.11 162.17 L273.58 162.09 L275.04 162.00 L276.51 161.92 L277.98 161.83 L279.44 161.74 L280.91 161.65 L282.38 161.56 L283.84 161.46 L285.31 161.37 L286.78 161.27 L288.24 161.17 L289.71 161.07 L291.18 160.97 L292.64 160.87 L294.11 160.76 L295.58 160.66 L297.04 160.55 L298.51 160.44 L299.98 160.33 L301.44 160.22 L302.91 160.11 L304.38 160.00 L305.84 159.88 L307.31 159.77 L308.78 159.65 L310.24 159.53 L311.71 159.41 L313.18 159.29 L314.64 159.17 L316.11 159.05 L317.58 158.93 L319.04 158.81 L320.51 158.68 L321.98 158.56 L323.44 158.43 L324.91 158.30 L326.38 158.17 L327.84 158.05 L329.31 157.92 L330.78 157.79 L332.24 157.65 L333.71 157.52 L335.18 157.39 L336.64 157.26 L338.11 157.12 L339.58 156.99 L341.04 156.85 L342.51 156.72 L343.98 156.58 L345.45 156.44 L346.91 156.30 L348.38 156.16 L349.85 156.02 L351.31 155.88 L352.78 155.74 L354.25 155.60 L355.71 155.46 L357.18 155.32 L358.65 155.18 L360.11 155.03 L361.58 154.89 L363.05 154.74 L364.51 154.60 L365.98 154.45 L367.45 154.31 L368.91 154.16 L370.38 154.02 L371.85 153.87 L373.31 153.72 L374.78 153.57 L376.25 153.42 L377.71 153.28 L379.18 153.13 L380.65 152.98 L382.11 152.83 L383.58 152.68 L385.05 152.53 L386.51 152.38 L387.98 152.22 L389.45 152.07 L390.91 151.92 L392.38 151.77 L393.85 151.61 L395.31 151.46 L396.78 151.31 L398.25 151.15 L399.71 151.00 L401.18 150.85 L402.65 150.69 L404.11 150.54 L405.58 150.38 L407.05 150.23 L408.51 150.07 L409.98 149.92 L411.45 149.76 L412.91 149.60 L414.38 149.45 L415.85 149.29 L417.31 149.13 L418.78 148.98 L420.25 148.82 L421.71 148.66 L423.18 148.50 L424.65 148.34 L426.11 148.19 L427.58 148.03 L429.05 147.87 L430.51 147.71 L431.98 147.55 L433.45 147.39 L434.91 147.23 L436.38 147.07 L437.85 146.91 L439.31 146.75 L440.78 146.59 L442.25 146.43 L443.71 146.27 L445.18 146.11 L446.65 145.95 L448.11 145.79 L449.58 145.63 L451.05 145.47 L452.51 145.31 L453.98 145.15 L455.45 144.99 L456.91 144.82 L458.38 144.66 L459.85 144.50 L461.31 144.34 L462.78 144.18 L464.25 144.01 L465.71 143.85 L467.18 143.69 L468.65 143.53 L470.11 143.37 L471.58 143.20 L473.05 143.04 L474.51 142.88 L475.98 142.72 L477.45 142.55 L478.91 142.39 L480.38 142.23 L481.85 142.06 L483.31 141.90 L484.78 141.74 L486.25 141.57 L487.71 141.41 L489.18 141.25 L490.65 141.08 L492.11 140.92 L493.58 140.76 L495.05 140.59 L496.51 140.43 L496.51 168.81 L495.05 168.95 L493.58 169.10 L492.11 169.24 L490.65 169.39 L489.18 169.54 L487.71 169.68 L486.25 169.83 L484.78 169.97 L483.31 170.12 L481.85 170.27 L480.38 170.41 L478.91 170.56 L477.45 170.70 L475.98 170.85 L474.51 170.99 L473.05 171.14 L471.58 171.28 L470.11 171.43 L468.65 171.57 L467.18 171.72 L465.71 171.86 L464.25 172.01 L462.78 172.15 L461.31 172.30 L459.85 172.44 L458.38 172.59 L456.91 172.73 L455.45 172.88 L453.98 173.02 L452.51 173.16 L451.05 173.31 L449.58 173.45 L448.11 173.60 L446.65 173.74 L445.18 173.88 L443.71 174.03 L442.25 174.17 L440.78 174.31 L439.31 174.46 L437.85 174.60 L436.38 174.74 L434.91 174.88 L433.45 175.03 L431.98 175.17 L430.51 175.31 L429.05 175.45 L427.58 175.59 L426.11 175.74 L424.65 175.88 L423.18 176.02 L421.71 176.16 L420.25 176.30 L418.78 176.44 L417.31 176.58 L415.85 176.72 L414.38 176.86 L412.91 177.00 L411.45 177.14 L409.98 177.28 L408.51 177.42 L407.05 177.56 L405.58 177.70 L404.11 177.84 L402.65 177.97 L401.18 178.11 L399.71 178.25 L398.25 178.39 L396.78 178.53 L395.31 178.66 L393.85 178.80 L392.38 178.94 L390.91 179.07 L389.45 179.21 L387.98 179.34 L386.51 179.48 L385.05 179.61 L383.58 179.75 L382.11 179.88 L380.65 180.02 L379.18 180.15 L377.71 180.28 L376.25 180.42 L374.78 180.55 L373.31 180.68 L371.85 180.81 L370.38 180.94 L368.91 181.08 L367.45 181.21 L365.98 181.34 L364.51 181.47 L363.05 181.60 L361.58 181.73 L360.11 181.85 L358.65 181.98 L357.18 182.11 L355.71 182.24 L354.25 182.36 L352.78 182.49 L351.31 182.61 L349.85 182.74 L348.38 182.86 L346.91 182.99 L345.45 183.11 L343.98 183.23 L342.51 183.36 L341.04 183.48 L339.58 183.60 L338.11 183.72 L336.64 183.84 L335.18 183.96 L333.71 184.08 L332.24 184.20 L330.78 184.31 L329.31 184.43 L327.84 184.55 L326.38 184.66 L324.91 184.78 L323.44 184.89 L321.98 185.00 L320.51 185.11 L319.04 185.22 L317.58 185.34 L316.11 185.44 L314.64 185.55 L313.18 185.66 L311.71 185.77 L310.24 185.87 L308.78 185.98 L307.31 186.08 L305.84 186.19 L304.38 186.29 L302.91 186.39 L301.44 186.49 L299.98 186.59 L298.51 186.69 L297.04 186.78 L295.58 186.88 L294.11 186.97 L292.64 187.07 L291.18 187.16 L289.71 187.25 L288.24 187.34 L286.78 187.43 L285.31 187.51 L283.84 187.60 L282.38 187.68 L280.91 187.77 L279.44 187.85 L277.98 187.93 L276.51 188.00 L275.04 188.08 L273.58 188.16 L272.11 188.23 L270.64 188.30 L269.18 188.37 L267.71 188.44 L266.24 188.50 L264.78 188.57 L263.31 188.63 L261.84 188.69 L260.38 188.75 L258.91 188.81 L257.44 188.86 L255.98 188.91 L254.51 188.96 L253.04 189.01 L251.58 189.05 L250.11 189.10 L248.64 189.14 L247.18 189.18 L245.71 189.21 L244.24 189.24 L242.78 189.27 L241.31 189.30 L239.84 189.32 L238.38 189.35 L236.91 189.36 L235.44 189.38 L233.98 189.39 L232.51 189.40 L231.04 189.40 L229.58 189.41 L228.11 189.40 L226.64 189.40 L225.18 189.39 L223.71 189.38 L222.24 189.36 L220.78 189.34 L219.31 189.31 L217.84 189.28 L216.38 189.25 L214.91 189.21 L213.44 189.16 L211.98 189.12 L210.51 189.06 L209.04 189.00 L207.58 188.94 L206.11 188.87 L204.64 188.79 L203.18 188.71 L201.71 188.62 L200.24 188.52 L198.78 188.42 L197.31 188.31 L195.84 188.20 L194.38 188.08 L192.91 187.95 L191.44 187.81 L189.97 187.66 L188.51 187.51 L187.04 187.34 L185.57 187.17 L184.11 186.99 L182.64 186.80 L181.17 186.60 L179.71 186.38 L178.24 186.16 L176.77 185.92 L175.31 185.68 L173.84 185.42 L172.37 185.14 L170.91 184.86 L169.44 184.56 L167.97 184.24 L166.51 183.91 L165.04 183.57 L163.57 183.20 L162.11 182.82 L160.64 182.42 L159.17 182.00 L157.71 181.56 L156.24 181.10 L154.77 180.62 L153.31 180.11 L151.84 179.58 L150.37 179.02 L148.91 178.44 L147.44 177.82 L145.97 177.17 L144.51 176.49 L143.04 175.78 L141.57 175.03 L140.11 174.23 L138.64 173.40 L137.17 172.52 L135.71 171.59 L134.24 170.61 L132.77 169.58 L131.31 168.48 L129.84 167.32 L128.37 166.09 L126.91 164.79 L125.44 163.40 L123.97 161.92 L122.51 160.34 L121.04 158.66 L119.57 156.86 L118.11 154.93 L116.64 152.85 L115.56 151.21 L114.51 149.55 L113.51 147.84 L112.53 146.11 L111.60 144.35 L110.69 142.55 L109.82 140.72 L108.98 138.86 L108.17 136.97 L107.39 135.04 L106.64 133.09 L105.91 131.10 L105.21 129.08 L104.54 127.03 L103.89 124.95 L103.26 122.84 L102.65 120.70 L102.07 118.52 L101.50 116.32 L100.96 114.08 L100.44 111.81 L99.93 109.51 L99.44 107.18 L98.97 104.82 L98.52 102.43 L98.08 100.01 L97.66 97.55 L97.25 95.06 L96.86 92.55 L96.48 90.00 L96.12 87.42 L95.77 84.81 L95.43 82.16 L95.10 79.49 L94.79 76.78 L94.48 74.04 L94.19 71.27 L93.91 68.47 L93.63 65.64 L93.37 62.77 L93.12 59.87 L92.87 56.94 L92.64 53.97 L92.41 50.98 L92.19 47.95 L91.98 44.89 L91.77 41.79 L91.58 38.66 L91.39 35.50 L91.20 32.31 L91.03 29.08 L90.86 25.81 L90.69 22.52 L90.53 19.18 L90.38 15.82 L90.23 12.42 L90.09 8.98 L89.96 5.51 L89.82 2.01 L89.70 -1.53 L89.57 -5.11 L89.45 -8.72 L89.34 -12.37 L89.23 -16.05 L89.12 -19.77 L89.02 -23.53 L88.92 -27.32 L88.83 -31.15 L88.74 -35.02 L88.65 -38.92 L88.56 -42.86 L88.48 -46.84 L88.40 -50.86 L88.32 -54.92 L88.25 -59.02 L88.18 -63.15 L88.11 -66.65 L88.04 -66.65 L87.98 -66.65 L87.92 -66.65 L87.86 -66.65 L87.80 -66.65 L87.75 -66.65 L87.69 -66.65 L87.64 -66.65 L87.59 -66.65 L87.54 -66.65 L87.50 -66.65 L87.45 -66.65 L87.41 -66.65 L87.37 -66.65 L87.33 -66.65 L87.29 -66.65 L87.25 -66.65 L87.22 -66.65 L87.18 -66.65 L87.15 -66.65 L87.12 -66.65 L87.09 -66.65 L87.06 -66.65 L87.03 -66.65 L87.00 -66.65 L86.97 -66.65 L86.95 -66.65 L86.92 -66.65 L86.90 -66.65 L86.88 -66.65 L86.85 -66.65 L86.83 -66.65 L86.81 -66.65 L86.79 -66.65 L86.77 -66.65 L86.75 -66.65 L86.74 -66.65 L86.72 -66.65 L86.70 -66.65 L86.69 -66.65 L86.67 -66.65 L86.66 -66.65Z" fill="#0000ff" fill-opacity="0.2"/>
<path d="M63.96 115.97 L64.28 114.68 L64.59 113.37 L64.90 112.03 L65.21 110.67 L65.52 109.30 L65.83 107.89 L66.15 106.47 L66.46 105.02 L66.77 103.54 L67.08 102.04 L67.39 100.51 L67.70 98.95 L68.02 97.36 L68.33 95.74 L68.64 94.09 L68.95 92.41 L69.26 90.69 L69.57 88.94 L69.89 87.14 L70.20 85.31 L70.51 83.44 L70.82 81.53 L71.13 79.57 L71.44 77.57 L71.76 75.51 L72.07 73.41 L72.38 71.25 L72.69 69.03 L73.00 66.76 L73.31 64.42 L73.63 62.02 L73.94 59.55 L74.25 57.00 L74.56 54.38 L74.87 51.68 L75.18 48.88 L75.50 45.99 L75.81 43.01 L76.12 39.91 L76.52 35.73 L76.91 31.52 L77.29 27.27 L77.64 22.99 L77.99 18.68 L78.32 14.34 L78.63 9.96 L78.94 5.55 L79.23 1.11 L79.51 -3.38 L79.78 -7.89 L80.04 -12.45 L80.29 -17.04 L80.52 -21.68 L80.75 -26.35 L80.97 -31.06 L81.18 -35.81 L81.38 -40.60 L81.58 -45.44 L81.77 -50.32 L81.94 -55.24 L82.12 -60.21 L82.28 -65.22 L82.44 -66.65 L82.59 -66.65 L82.74 -66.65 L82.88 -66.65 L83.01 -66.65 L83.14 -66.65 L83.27 -66.65 L83.39 -66.65 L83.50 -66.65 L83.61 -66.65 L83.72 -66.65 L83.82 -66.65 L83.91 -66.65 L84.01 -66.65 L84.10 -66.65 L84.18 -66.65 L84.26 -66.65 L84.34 -66.65 L84.42 -66.65 L84.49 -66.65 L84.56 -66.65 L84.63 -66.65 L84.70 -66.65 L84.76 -66.65 L84.82 -66.65 L84.87 -66.65 L84.93 -66.65 L84.98 -66.65 L85.03 -66.65 L85.08 -66.65 L85.13 -66.65 L85.17 -66.65 L85.22 -66.65 L85.26 -66.65 L85.30 -66.65 L85.33 -66.65 L85.37 -66.65 L85.41 -66.65 L85.44 -66.65 L85.47 -66.65 L85.50 -66.65 L85.53 -66.65 L85.56 -66.65 L85.59 -66.65 L85.62 -66.65 L85.64 -66.65 L85.67 -66.65 L85.69 -66.65 L85.71 -66.65 L85.73 -66.65 L85.75 -66.65 L85.77 -66.65 L85.79 -66.65 L85.81 -66.65 L85.83 -66.65 L85.84 -66.65 M86.66 -66.65 L86.67 -66.65 L86.69 -66.65 L86.70 -66.65 L86.72 -66.65 L86.74 -66.65 L86.75 -66.65 L86.77 -66.65 L86.79 -66.65 L86.81 -66.65 L86.83 -66.65 L86.85 -66.65 L86.88 -66.65 L86.90 -66.65 L86.92 -66.65 L86.95 -66.65 L86.97 -66.65 L87.00 -66.65 L87.03 -66.65 L87.06 -66.65 L87.09 -66.65 L87.12 -66.65 L87.15 -66.65 L87.18 -66.65 L87.22 -66.65 L87.25 -66.65 L87.29 -66.65 L87.33 -66.65 L87.37 -66.65 L87.41 -66.65 L87.45 -66.65 L87.50 -66.65 L87.54 -66.65 L87.59 -66.65 L87.64 -66.65 L87.69 -66.65 L87.75 -66.65 L87.80 -66.65 L87.86 -66.65 L87.92 -66.65 L87.98 -66.65 L88.04 -66.65 L88.11 -66.65 L88.18 -66.65 L88.25 -66.65 L88.32 -66.65 L88.40 -66.65 L88.48 -66.65 L88.56 -66.65 L88.65 -66.65 L88.74 -66.65 L88.83 -66.65 L88.92 -66.65 L89.02 -66.65 L89.12 -66.65 L89.23 -66.65 L89.34 -66.65 L89.45 -66.65 L89.57 -66.65 L89.70 -66.65 L89.82 -66.65 L89.96 -66.65 L90.09 -66.65 L90.23 -66.65 L90.38 -66.65 L90.53 -66.17 L90.69 -62.11 L90.86 -58.08 L91.03 -54.10 L91.20 -50.16 L91.39 -46.26 L91.58 -42.41 L91.77 -38.59 L91.98 -34.81 L92.19 -31.08 L92.41 -27.38 L92.64 -23.72 L92.87 -20.11 L93.12 -16.53 L93.37 -13.00 L93.63 -9.50 L93.91 -6.04 L94.19 -2.62 L94.48 0.76 L94.79 4.10 L95.10 7.40 L95.43 10.67 L95.77 13.89 L96.12 17.08 L96.48 20.23 L96.86 23.34 L97.25 26.41 L97.66 29.44 L98.08 32.44 L98.52 35.39 L98.97 38.31 L99.44 41.19 L99.93 44.04 L100.44 46.84 L100.96 49.61 L101.50 52.34 L102.07 55.03 L102.65 57.68 L103.26 60.29 L103.89 62.87 L104.54 65.41 L105.21 67.91 L105.91 70.37 L106.64 72.80 L107.39 75.18 L108.17 77.53 L108.98 79.84 L109.82 82.11 L110.69 84.34 L111.60 86.53 L112.53 88.69 L113.51 90.80 L114.51 92.88 L115.56 94.91 L116.64 96.91 L118.11 99.45 L119.57 101.80 L121.04 104.00 L122.51 106.05 L123.97 107.98 L125.44 109.78 L126.91 111.47 L128.37 113.06 L129.84 114.57 L131.31 115.98 L132.77 117.32 L134.24 118.58 L135.71 119.78 L137.17 120.91 L138.64 121.98 L140.11 123.00 L141.57 123.97 L143.04 124.89 L144.51 125.76 L145.97 126.59 L147.44 127.38 L148.91 128.13 L150.37 128.84 L151.84 129.52 L153.31 130.17 L154.77 130.79 L156.24 131.38 L157.71 131.94 L159.17 132.48 L160.64 132.99 L162.11 133.48 L163.57 133.94 L165.04 134.39 L166.51 134.81 L167.97 135.21 L169.44 135.60 L170.91 135.96 L172.37 136.31 L173.84 136.64 L175.31 136.96 L176.77 137.26 L178.24 137.55 L179.71 137.82 L181.17 138.08 L182.64 138.33 L184.11 138.56 L185.57 138.78 L187.04 138.99 L188.51 139.19 L189.97 139.38 L191.44 139.56 L192.91 139.73 L194.38 139.89 L195.84 140.04 L197.31 140.18 L198.78 140.31 L200.24 140.44 L201.71 140.55 L203.18 140.66 L204.64 140.76 L206.11 140.85 L207.58 140.94 L209.04 141.02 L210.51 141.09 L211.98 141.16 L213.44 141.22 L214.91 141.27 L216.38 141.32 L217.84 141.36 L219.31 141.40 L220.78 141.43 L222.24 141.45 L223.71 141.47 L225.18 141.49 L226.64 141.50 L228.11 141.51 L229.58 141.51 L231.04 141.51 L232.51 141.50 L233.98 141.49 L235.44 141.48 L236.91 141.46 L238.38 141.44 L239.84 141.41 L241.31 141.38 L242.78 141.35 L244.24 141.31 L245.71 141.27 L247.18 141.23 L248.64 141.18 L250.11 141.13 L251.58 141.08 L253.04 141.03 L254.51 140.97 L255.98 140.91 L257.44 140.84 L258.91 140.78 L260.38 140.71 L261.84 140.64 L263.31 140.56 L264.78 140.49 L266.24 140.41 L267.71 140.33 L269.18 140.25 L270.64 140.16 L272.11 140.07 L273.58 139.99 L275.04 139.89 L276.51 139.80 L277.98 139.71 L279.44 139.61 L280.91 139.51 L282.38 139.41 L283.84 139.31 L285.31 139.20 L286.78 139.10 L288.24 138.99 L289.71 138.88 L291.18 138.77 L292.64 138.66 L294.11 138.54 L295.58 138.43 L297.04 138.31 L298.51 138.19 L299.98 138.07 L301.44 137.95 L302.91 137.83 L304.38 137.71 L305.84 137.58 L307.31 137.46 L308.78 137.33 L310.24 137.20 L311.71 137.07 L313.18 136.94 L314.64 136.81 L316.11 136.68 L317.58 136.54 L319.04 136.41 L320.51 136.27 L321.98 136.14 L323.44 136.00 L324.91 135.86 L326.38 135.72 L327.84 135.58 L329.31 135.44 L330.78 135.30 L332.24 135.15 L333.71 135.01 L335.18 134.87 L336.64 134.72 L338.11 134.57 L339.58 134.43 L341.04 134.28 L342.51 134.13 L343.98 133.98 L345.45 133.83 L346.91 133.68 L348.38 133.53 L349.85 133.38 L351.31 133.22 L352.78 133.07 L354.25 132.92 L355.71 132.76 L357.18 132.61 L358.65 132.45 L360.11 132.30 L361.58 132.14 L363.05 131.98 L364.51 131.82 L365.98 131.67 L367.45 131.51 L368.91 131.35 L370.38 131.19 L371.85 131.03 L373.31 130.87 L374.78 130.71 L376.25 130.54 L377.71 130.38 L379.18 130.22 L380.65 130.06 L382.11 129.89 L383.58 129.73 L385.05 129.56 L386.51 129.40 L387.98 129.23 L389.45 129.07 L390.91 128.90 L392.38 128.74 L393.85 128.57 L395.31 128.40 L396.78 128.24 L398.25 128.07 L399.71 127.90 L401.18 127.73 L402.65 127.56 L404.11 127.40 L405.58 127.23 L407.05 127.06 L408.51 126.89 L409.98 126.72 L411.45 126.55 L412.91 126.38 L414.38 126.21 L415.85 126.03 L417.31 125.86 L418.78 125.69 L420.25 125.52 L421.71 125.35 L423.18 125.18 L424.65 125.00 L426.11 124.83 L427.58 124.66 L429.05 124.49 L430.51 124.31 L431.98 124.14 L433.45 123.97 L434.91 123.79 L436.38 123.62 L437.85 123.44 L439.31 123.27 L440.78 123.10 L442.25 122.92 L443.71 122.75 L445.18 122.57 L446.65 122.40 L448.11 122.22 L449.58 122.05 L451.05 121.87 L452.51 121.69 L453.98 121.52 L455.45 121.34 L456.91 121.17 L458.38 120.99 L459.85 120.81 L461.31 120.64 L462.78 120.46 L464.25 120.28 L465.71 120.11 L467.18 119.93 L468.65 119.75 L470.11 119.58 L471.58 119.40 L473.05 119.22 L474.51 119.05 L475.98 118.87 L477.45 118.69 L478.91 118.51 L480.38 118.34 L481.85 118.16 L483.31 117.98 L484.78 117.80 L486.25 117.62 L487.71 117.45 L489.18 117.27 L490.65 117.09 L492.11 116.91 L493.58 116.73 L495.05 116.56 L496.51 116.38" fill="none" stroke="#ffff00" stroke-width="2.5" stroke-linejoin="round"/>
<path d="M63.96 212.61 L64.28 211.75 L64.59 210.87 L64.90 209.98 L65.21 209.07 L65.52 208.15 L65.83 207.21 L66.15 206.26 L66.46 205.29 L66.77 204.31 L67.08 203.30 L67.39 202.28 L67.70 201.24 L68.02 200.18 L68.33 199.10 L68.64 197.99 L68.95 196.87 L69.26 195.72 L69.57 194.55 L69.89 193.35 L70.20 192.13 L70.51 190.88 L70.82 189.60 L71.13 188.29 L71.44 186.96 L71.76 185.58 L72.07 184.18 L72.38 182.74 L72.69 181.26 L73.00 179.74 L73.31 178.18 L73.63 176.57 L73.94 174.92 L74.25 173.22 L74.56 171.47 L74.87 169.66 L75.18 167.79 L75.50 165.87 L75.81 163.87 L76.12 161.80 L76.52 159.01 L76.91 156.19 L77.29 153.36 L77.64 150.50 L77.99 147.62 L78.32 144.72 L78.63 141.80 L78.94 138.85 L79.23 135.88 L79.51 132.89 L79.78 129.87 L80.04 126.83 L80.29 123.76 L80.52 120.66 L80.75 117.54 L80.97 114.40 L81.18 111.22 L81.38 108.02 L81.58 104.79 L81.77 101.53 L81.94 98.24 L82.12 94.93 L82.28 91.58 L82.44 88.20 L82.59 84.79 L82.74 81.35 L82.88 77.88 L83.01 74.38 L83.14 70.84 L83.27 67.27 L83.39 63.67 L83.50 60.03 L83.61 56.36 L83.72 52.66 L83.82 48.91 L83.91 45.13 L84.01 41.32 L84.10 37.47 L84.18 33.58 L84.26 29.65 L84.34 25.68 L84.42 21.68 L84.49 17.63 L84.56 13.54 L84.63 9.42 L84.70 5.25 L84.76 1.04 L84.82 -3.21 L84.87 -7.51 L84.93 -11.85 L84.98 -16.23 L85.03 -20.66 L85.08 -25.14 L85.13 -29.66 L85.17 -34.22 L85.22 -38.84 L85.26 -43.50 L85.30 -48.21 L85.33 -52.97 L85.37 -57.78 L85.41 -62.64 L85.44 -66.65 L85.47 -66.65 L85.50 -66.65 L85.53 -66.65 L85.56 -66.65 L85.59 -66.65 L85.62 -66.65 L85.64 -66.65 L85.67 -66.65 L85.69 -66.65 L85.71 -66.65 L85.73 -66.65 L85.75 -66.65 L85.77 -66.65 L85.79 -66.65 L85.81 -66.65 L85.83 -66.65 L85.84 -66.65 M86.66 -66.65 L86.67 -66.65 L86.69 -66.65 L86.70 -66.65 L86.72 -66.65 L86.74 -66.65 L86.75 -66.65 L86.77 -66.65 L86.79 -66.65 L86.81 -66.65 L86.83 -66.65 L86.85 -66.65 L86.88 -66.65 L86.90 -66.65 L86.92 -66.65 L86.95 -66.65 L86.97 -66.65 L87.00 -66.65 L87.03 -66.65 L87.06 -66.65 L87.09 -62.87 L87.12 -58.71 L87.15 -54.59 L87.18 -50.51 L87.22 -46.47 L87.25 -42.46 L87.29 -38.48 L87.33 -34.54 L87.37 -30.64 L87.41 -26.77 L87.45 -22.94 L87.50 -19.14 L87.54 -15.37 L87.59 -11.64 L87.64 -7.94 L87.69 -4.28 L87.75 -0.65 L87.80 2.95 L87.86 6.51 L87.92 10.04 L87.98 13.54 L88.04 17.00 L88.11 20.44 L88.18 23.84 L88.25 27.21 L88.32 30.55 L88.40 33.85 L88.48 37.13 L88.56 40.37 L88.65 43.58 L88.74 46.77 L88.83 49.92 L88.92 53.04 L89.02 56.13 L89.12 59.19 L89.23 62.22 L89.34 65.23 L89.45 68.20 L89.57 71.14 L89.70 74.06 L89.82 76.94 L89.96 79.80 L90.09 82.63 L90.23 85.43 L90.38 88.20 L90.53 90.94 L90.69 93.65 L90.86 96.34 L91.03 99.00 L91.20 101.63 L91.39 104.24 L91.58 106.81 L91.77 109.36 L91.98 111.89 L92.19 114.38 L92.41 116.85 L92.64 119.29 L92.87 121.71 L93.12 124.10 L93.37 126.46 L93.63 128.80 L93.91 131.11 L94.19 133.39 L94.48 135.65 L94.79 137.88 L95.10 140.09 L95.43 142.27 L95.77 144.42 L96.12 146.55 L96.48 148.65 L96.86 150.73 L97.25 152.78 L97.66 154.81 L98.08 156.81 L98.52 158.78 L98.97 160.73 L99.44 162.66 L99.93 164.56 L100.44 166.43 L100.96 168.28 L101.50 170.10 L102.07 171.90 L102.65 173.67 L103.26 175.42 L103.89 177.14 L104.54 178.84 L105.21 180.51 L105.91 182.15 L106.64 183.77 L107.39 185.36 L108.17 186.93 L108.98 188.47 L109.82 189.99 L110.69 191.48 L111.60 192.95 L112.53 194.38 L113.51 195.80 L114.51 197.18 L115.56 198.54 L116.64 199.88 L118.11 201.57 L119.57 203.14 L121.04 204.61 L122.51 205.98 L123.97 207.27 L125.44 208.47 L126.91 209.60 L128.37 210.67 L129.84 211.67 L131.31 212.62 L132.77 213.51 L134.24 214.35 L135.71 215.15 L137.17 215.91 L138.64 216.62 L140.11 217.30 L141.57 217.95 L143.04 218.56 L144.51 219.15 L145.97 219.70 L147.44 220.23 L148.91 220.73 L150.37 221.21 L151.84 221.66 L153.31 222.10 L154.77 222.51 L156.24 222.90 L157.71 223.28 L159.17 223.64 L160.64 223.98 L162.11 224.30 L163.57 224.61 L165.04 224.91 L166.51 225.19 L167.97 225.46 L169.44 225.72 L170.91 225.96 L172.37 226.20 L173.84 226.42 L175.31 226.63 L176.77 226.83 L178.24 227.02 L179.71 227.21 L181.17 227.38 L182.64 227.54 L184.11 227.70 L185.57 227.85 L187.04 227.99 L188.51 228.12 L189.97 228.25 L191.44 228.37 L192.91 228.48 L194.38 228.59 L195.84 228.69 L197.31 228.78 L198.78 228.87 L200.24 228.95 L201.71 229.03 L203.18 229.10 L204.64 229.17 L206.11 229.23 L207.58 229.29 L209.04 229.34 L210.51 229.39 L211.98 229.43 L213.44 229.47 L214.91 229.51 L216.38 229.54 L217.84 229.57 L219.31 229.59 L220.78 229.61 L222.24 229.63 L223.71 229.65 L225.18 229.66 L226.64 229.66 L228.11 229.67 L229.58 229.67 L231.04 229.67 L232.51 229.66 L233.98 229.66 L235.44 229.65 L236.91 229.64 L238.38 229.62 L239.84 229.60 L241.31 229.58 L242.78 229.56 L244.24 229.54 L245.71 229.51 L247.18 229.48 L248.64 229.45 L250.11 229.42 L251.58 229.38 L253.04 229.35 L254.51 229.31 L255.98 229.27 L257.44 229.22 L258.91 229.18 L260.38 229.13 L261.84 229.09 L263.31 229.04 L264.78 228.99 L266.24 228.93 L267.71 228.88 L269.18 228.83 L270.64 228.77 L272.11 228.71 L273.58 228.65 L275.04 228.59 L276.51 228.53 L277.98 228.46 L279.44 228.40 L280.91 228.33 L282.38 228.27 L283.84 228.20 L285.31 228.13 L286.78 228.06 L288.24 227.98 L289.71 227.91 L291.18 227.84 L292.64 227.76 L294.11 227.69 L295.58 227.61 L297.04 227.53 L298.51 227.45 L299.98 227.37 L301.44 227.29 L302.91 227.21 L304.38 227.13 L305.84 227.05 L307.31 226.96 L308.78 226.88 L310.24 226.79 L311.71 226.70 L313.18 226.62 L314.64 226.53 L316.11 226.44 L317.58 226.35 L319.04 226.26 L320.51 226.17 L321.98 226.08 L323.44 225.99 L324.91 225.90 L326.38 225.80 L327.84 225.71 L329.31 225.61 L330.78 225.52 L332.24 225.42 L333.71 225.33 L335.18 225.23 L336.64 225.13 L338.11 225.04 L339.58 224.94 L341.04 224.84 L342.51 224.74 L343.98 224.64 L345.45 224.54 L346.91 224.44 L348.38 224.34 L349.85 224.24 L351.31 224.13 L352.78 224.03 L354.25 223.93 L355.71 223.83 L357.18 223.72 L358.65 223.62 L360.11 223.51 L361.58 223.41 L363.05 223.30 L364.51 223.20 L365.98 223.09 L367.45 222.99 L368.91 222.88 L370.38 222.77 L371.85 222.67 L373.31 222.56 L374.78 222.45 L376.25 222.34 L377.71 222.24 L379.18 222.13 L380.65 222.02 L382.11 221.91 L383.58 221.80 L385.05 221.69 L386.51 221.58 L387.98 221.47 L389.45 221.36 L390.91 221.25 L392.38 221.14 L393.85 221.03 L395.31 220.91 L396.78 220.80 L398.25 220.69 L399.71 220.58 L401.18 220.47 L402.65 220.35 L404.11 220.24 L405.58 220.13 L407.05 220.01 L408.51 219.90 L409.98 219.79 L411.45 219.67 L412.91 219.56 L414.38 219.45 L415.85 219.33 L417.31 219.22 L418.78 219.10 L420.25 218.99 L421.71 218.87 L423.18 218.76 L424.65 218.64 L426.11 218.53 L427.58 218.41 L429.05 218.30 L430.51 218.18 L431.98 218.07 L433.45 217.95 L434.91 217.83 L436.38 217.72 L437.85 217.60 L439.31 217.48 L440.78 217.37 L442.25 217.25 L443.71 217.13 L445.18 217.02 L446.65 216.90 L448.11 216.78 L449.58 216.67 L451.05 216.55 L452.51 216.43 L453.98 216.31 L455.45 216.20 L456.91 216.08 L458.38 215.96 L459.85 215.84 L461.31 215.73 L462.78 215.61 L464.25 215.49 L465.71 215.37 L467.18 215.25 L468.65 215.14 L470.11 215.02 L471.58 214.90 L473.05 214.78 L474.51 214.66 L475.98 214.54 L477.45 214.43 L478.91 214.31 L480.38 214.19 L481.85 214.07 L483.31 213.95 L484.78 213.83 L486.25 213.71 L487.71 213.59 L489.18 213.48 L490.65 213.36 L492.11 213.24 L493.58 213.12 L495.05 213.00 L496.51 212.88" fill="none" stroke="#ffff00" stroke-width="2.5" stroke-linejoin="round"/>
<path d="M63.96 128.23 L64.28 127.00 L64.59 125.74 L64.90 124.46 L65.21 123.16 L65.52 121.84 L65.83 120.49 L66.15 119.13 L66.46 117.74 L66.77 116.32 L67.08 114.88 L67.39 113.42 L67.70 111.93 L68.02 110.41 L68.33 108.85 L68.64 107.27 L68.95 105.66 L69.26 104.01 L69.57 102.33 L69.89 100.62 L70.20 98.87 L70.51 97.07 L70.82 95.24 L71.13 93.36 L71.44 91.44 L71.76 89.48 L72.07 87.46 L72.38 85.39 L72.69 83.27 L73.00 81.09 L73.31 78.86 L73.63 76.55 L73.94 74.19 L74.25 71.75 L74.56 69.24 L74.87 66.64 L75.18 63.97 L75.50 61.20 L75.81 58.34 L76.12 55.38 L76.52 51.37 L76.91 47.33 L77.29 43.27 L77.64 39.17 L77.99 35.04 L78.32 30.88 L78.63 26.69 L78.94 22.46 L79.23 18.20 L79.51 13.91 L79.78 9.58 L80.04 5.22 L80.29 0.82 L80.52 -3.62 L80.75 -8.09 L80.97 -12.61 L81.18 -17.16 L81.38 -21.75 L81.58 -26.38 L81.77 -31.05 L81.94 -35.77 L82.12 -40.52 L82.28 -45.32 L82.44 -50.17 L82.59 -55.05 L82.74 -59.99 L82.88 -64.96 L83.01 -66.65 L83.14 -66.65 L83.27 -66.65 L83.39 -66.65 L83.50 -66.65 L83.61 -66.65 L83.72 -66.65 L83.82 -66.65 L83.91 -66.65 L84.01 -66.65 L84.10 -66.65 L84.18 -66.65 L84.26 -66.65 L84.34 -66.65 L84.42 -66.65 L84.49 -66.65 L84.56 -66.65 L84.63 -66.65 L84.70 -66.65 L84.76 -66.65 L84.82 -66.65 L84.87 -66.65 L84.93 -66.65 L84.98 -66.65 L85.03 -66.65 L85.08 -66.65 L85.13 -66.65 L85.17 -66.65 L85.22 -66.65 L85.26 -66.65 L85.30 -66.65 L85.33 -66.65 L85.37 -66.65 L85.41 -66.65 L85.44 -66.65 L85.47 -66.65 L85.50 -66.65 L85.53 -66.65 L85.56 -66.65 L85.59 -66.65 L85.62 -66.65 L85.64 -66.65 L85.67 -66.65 L85.69 -66.65 L85.71 -66.65 L85.73 -66.65 L85.75 -66.65 L85.77 -66.65 L85.79 -66.65 L85.81 -66.65 L85.83 -66.65 L85.84 -66.65 M86.66 -66.65 L86.67 -66.65 L86.69 -66.65 L86.70 -66.65 L86.72 -66.65 L86.74 -66.65 L86.75 -66.65 L86.77 -66.65 L86.79 -66.65 L86.81 -66.65 L86.83 -66.65 L86.85 -66.65 L86.88 -66.65 L86.90 -66.65 L86.92 -66.65 L86.95 -66.65 L86.97 -66.65 L87.00 -66.65 L87.03 -66.65 L87.06 -66.65 L87.09 -66.65 L87.12 -66.65 L87.15 -66.65 L87.18 -66.65 L87.22 -66.65 L87.25 -66.65 L87.29 -66.65 L87.33 -66.65 L87.37 -66.65 L87.41 -66.65 L87.45 -66.65 L87.50 -66.65 L87.54 -66.65 L87.59 -66.65 L87.64 -66.65 L87.69 -66.65 L87.75 -66.65 L87.80 -66.65 L87.86 -66.65 L87.92 -66.65 L87.98 -66.65 L88.04 -66.65 L88.11 -66.65 L88.18 -66.65 L88.25 -66.65 L88.32 -66.65 L88.40 -66.65 L88.48 -66.65 L88.56 -66.65 L88.65 -66.65 L88.74 -66.65 L88.83 -66.65 L88.92 -66.65 L89.02 -66.65 L89.12 -66.65 L89.23 -66.65 L89.34 -66.65 L89.45 -66.65 L89.57 -66.65 L89.70 -66.65 L89.82 -66.31 L89.96 -62.22 L90.09 -58.16 L90.23 -54.15 L90.38 -50.17 L90.53 -46.24 L90.69 -42.35 L90.86 -38.49 L91.03 -34.68 L91.20 -30.91 L91.39 -27.17 L91.58 -23.48 L91.77 -19.82 L91.98 -16.20 L92.19 -12.62 L92.41 -9.08 L92.64 -5.58 L92.87 -2.12 L93.12 1.31 L93.37 4.70 L93.63 8.05 L93.91 11.36 L94.19 14.63 L94.48 17.87 L94.79 21.07 L95.10 24.24 L95.43 27.36 L95.77 30.45 L96.12 33.50 L96.48 36.52 L96.86 39.50 L97.25 42.44 L97.66 45.35 L98.08 48.21 L98.52 51.05 L98.97 53.84 L99.44 56.60 L99.93 59.33 L100.44 62.01 L100.96 64.66 L101.50 67.28 L102.07 69.85 L102.65 72.40 L103.26 74.90 L103.89 77.37 L104.54 79.80 L105.21 82.20 L105.91 84.55 L106.64 86.88 L107.39 89.16 L108.17 91.41 L108.98 93.62 L109.82 95.80 L110.69 97.93 L111.60 100.03 L112.53 102.10 L113.51 104.12 L114.51 106.11 L115.56 108.06 L116.64 109.97 L118.11 112.40 L119.57 114.66 L121.04 116.76 L122.51 118.73 L123.97 120.57 L125.44 122.30 L126.91 123.92 L128.37 125.45 L129.84 126.88 L131.31 128.24 L132.77 129.52 L134.24 130.73 L135.71 131.88 L137.17 132.96 L138.64 133.99 L140.11 134.96 L141.57 135.89 L143.04 136.77 L144.51 137.61 L145.97 138.40 L147.44 139.16 L148.91 139.88 L150.37 140.56 L151.84 141.21 L153.31 141.84 L154.77 142.43 L156.24 142.99 L157.71 143.53 L159.17 144.04 L160.64 144.53 L162.11 145.00 L163.57 145.45 L165.04 145.87 L166.51 146.28 L167.97 146.66 L169.44 147.03 L170.91 147.38 L172.37 147.71 L173.84 148.03 L175.31 148.34 L176.77 148.63 L178.24 148.90 L179.71 149.16 L181.17 149.41 L182.64 149.65 L184.11 149.87 L185.57 150.08 L187.04 150.28 L188.51 150.48 L189.97 150.66 L191.44 150.83 L192.91 150.99 L194.38 151.14 L195.84 151.29 L197.31 151.42 L198.78 151.55 L200.24 151.67 L201.71 151.78 L203.18 151.88 L204.64 151.98 L206.11 152.06 L207.58 152.15 L209.04 152.22 L210.51 152.29 L211.98 152.36 L213.44 152.41 L214.91 152.46 L216.38 152.51 L217.84 152.55 L219.31 152.59 L220.78 152.62 L222.24 152.64 L223.71 152.66 L225.18 152.68 L226.64 152.69 L228.11 152.69 L229.58 152.70 L231.04 152.69 L232.51 152.69 L233.98 152.68 L235.44 152.66 L236.91 152.65 L238.38 152.63 L239.84 152.60 L241.31 152.57 L242.78 152.54 L244.24 152.51 L245.71 152.47 L247.18 152.43 L248.64 152.38 L250.11 152.33 L251.58 152.28 L253.04 152.23 L254.51 152.18 L255.98 152.12 L257.44 152.06 L258.91 151.99 L260.38 151.93 L261.84 151.86 L263.31 151.79 L264.78 151.72 L266.24 151.64 L267.71 151.56 L269.18 151.48 L270.64 151.40 L272.11 151.32 L273.58 151.23 L275.04 151.15 L276.51 151.06 L277.98 150.97 L279.44 150.87 L280.91 150.78 L282.38 150.68 L283.84 150.58 L285.31 150.48 L286.78 150.38 L288.24 150.28 L289.71 150.17 L291.18 150.07 L292.64 149.96 L294.11 149.85 L295.58 149.74 L297.04 149.63 L298.51 149.52 L299.98 149.40 L301.44 149.29 L302.91 149.17 L304.38 149.05 L305.84 148.93 L307.31 148.81 L308.78 148.69 L310.24 148.57 L311.71 148.44 L313.18 148.32 L314.64 148.19 L316.11 148.07 L317.58 147.94 L319.04 147.81 L320.51 147.68 L321.98 147.55 L323.44 147.42 L324.91 147.28 L326.38 147.15 L327.84 147.01 L329.31 146.88 L330.78 146.74 L332.24 146.61 L333.71 146.47 L335.18 146.33 L336.64 146.19 L338.11 146.05 L339.58 145.91 L341.04 145.77 L342.51 145.63 L343.98 145.48 L345.45 145.34 L346.91 145.19 L348.38 145.05 L349.85 144.90 L351.31 144.76 L352.78 144.61 L354.25 144.46 L355.71 144.32 L357.18 144.17 L358.65 144.02 L360.11 143.87 L361.58 143.72 L363.05 143.57 L364.51 143.42 L365.98 143.26 L367.45 143.11 L368.91 142.96 L370.38 142.81 L371.85 142.65 L373.31 142.50 L374.78 142.34 L376.25 142.19 L377.71 142.03 L379.18 141.88 L380.65 141.72 L382.11 141.57 L383.58 141.41 L385.05 141.25 L386.51 141.09 L387.98 140.94 L389.45 140.78 L390.91 140.62 L392.38 140.46 L393.85 140.30 L395.31 140.14 L396.78 139.98 L398.25 139.82 L399.71 139.66 L401.18 139.50 L402.65 139.34 L404.11 139.17 L405.58 139.01 L407.05 138.85 L408.51 138.69 L409.98 138.52 L411.45 138.36 L412.91 138.20 L414.38 138.03 L415.85 137.87 L417.31 137.71 L418.78 137.54 L420.25 137.38 L421.71 137.21 L423.18 137.05 L424.65 136.88 L426.11 136.72 L427.58 136.55 L429.05 136.39 L430.51 136.22 L431.98 136.06 L433.45 135.89 L434.91 135.72 L436.38 135.56 L437.85 135.39 L439.31 135.22 L440.78 135.06 L442.25 134.89 L443.71 134.72 L445.18 134.55 L446.65 134.39 L448.11 134.22 L449.58 134.05 L451.05 133.88 L452.51 133.71 L453.98 133.54 L455.45 133.38 L456.91 133.21 L458.38 133.04 L459.85 132.87 L461.31 132.70 L462.78 132.53 L464.25 132.36 L465.71 132.19 L467.18 132.02 L468.65 131.85 L470.11 131.69 L471.58 131.52 L473.05 131.35 L474.51 131.18 L475.98 131.01 L477.45 130.84 L478.91 130.67 L480.38 130.50 L481.85 130.33 L483.31 130.16 L484.78 129.98 L486.25 129.81 L487.71 129.64 L489.18 129.47 L490.65 129.30 L492.11 129.13 L493.58 128.96 L495.05 128.79 L496.51 128.62" fill="none" stroke="#ff0000" stroke-width="2.5" stroke-linejoin="round"/>
<path d="M63.96 186.94 L64.28 185.96 L64.59 184.97 L64.90 183.96 L65.21 182.93 L65.52 181.89 L65.83 180.83 L66.15 179.75 L66.46 178.65 L66.77 177.54 L67.08 176.40 L67.39 175.24 L67.70 174.06 L68.02 172.86 L68.33 171.64 L68.64 170.39 L68.95 169.12 L69.26 167.82 L69.57 166.49 L69.89 165.14 L70.20 163.75 L70.51 162.34 L70.82 160.89 L71.13 159.41 L71.44 157.89 L71.76 156.34 L72.07 154.75 L72.38 153.12 L72.69 151.44 L73.00 149.72 L73.31 147.96 L73.63 146.14 L73.94 144.27 L74.25 142.35 L74.56 140.36 L74.87 138.32 L75.18 136.20 L75.50 134.02 L75.81 131.76 L76.12 129.42 L76.52 126.26 L76.91 123.07 L77.29 119.86 L77.64 116.63 L77.99 113.37 L78.32 110.08 L78.63 106.77 L78.94 103.44 L79.23 100.08 L79.51 96.69 L79.78 93.27 L80.04 89.82 L80.29 86.35 L80.52 82.85 L80.75 79.31 L80.97 75.75 L81.18 72.16 L81.38 68.53 L81.58 64.88 L81.77 61.19 L81.94 57.47 L82.12 53.71 L82.28 49.92 L82.44 46.10 L82.59 42.24 L82.74 38.35 L82.88 34.42 L83.01 30.45 L83.14 26.45 L83.27 22.41 L83.39 18.33 L83.50 14.21 L83.61 10.06 L83.72 5.86 L83.82 1.62 L83.91 -2.65 L84.01 -6.97 L84.10 -11.33 L84.18 -15.74 L84.26 -20.19 L84.34 -24.68 L84.42 -29.21 L84.49 -33.79 L84.56 -38.42 L84.63 -43.09 L84.70 -47.81 L84.76 -52.57 L84.82 -57.39 L84.87 -62.25 L84.93 -66.65 L84.98 -66.65 L85.03 -66.65 L85.08 -66.65 L85.13 -66.65 L85.17 -66.65 L85.22 -66.65 L85.26 -66.65 L85.30 -66.65 L85.33 -66.65 L85.37 -66.65 L85.41 -66.65 L85.44 -66.65 L85.47 -66.65 L85.50 -66.65 L85.53 -66.65 L85.56 -66.65 L85.59 -66.65 L85.62 -66.65 L85.64 -66.65 L85.67 -66.65 L85.69 -66.65 L85.71 -66.65 L85.73 -66.65 L85.75 -66.65 L85.77 -66.65 L85.79 -66.65 L85.81 -66.65 L85.83 -66.65 L85.84 -66.65 M86.66 -66.65 L86.67 -66.65 L86.69 -66.65 L86.70 -66.65 L86.72 -66.65 L86.74 -66.65 L86.75 -66.65 L86.77 -66.65 L86.79 -66.65 L86.81 -66.65 L86.83 -66.65 L86.85 -66.65 L86.88 -66.65 L86.90 -66.65 L86.92 -66.65 L86.95 -66.65 L86.97 -66.65 L87.00 -66.65 L87.03 -66.65 L87.06 -66.65 L87.09 -66.65 L87.12 -66.65 L87.15 -66.65 L87.18 -66.65 L87.22 -66.65 L87.25 -66.65 L87.29 -66.65 L87.33 -66.65 L87.37 -66.65 L87.41 -66.65 L87.45 -66.65 L87.50 -66.65 L87.54 -66.65 L87.59 -66.65 L87.64 -62.74 L87.69 -58.59 L87.75 -54.49 L87.80 -50.41 L87.86 -46.38 L87.92 -42.38 L87.98 -38.42 L88.04 -34.50 L88.11 -30.61 L88.18 -26.76 L88.25 -22.95 L88.32 -19.17 L88.40 -15.43 L88.48 -11.72 L88.56 -8.05 L88.65 -4.41 L88.74 -0.81 L88.83 2.76 L88.92 6.29 L89.02 9.79 L89.12 13.26 L89.23 16.69 L89.34 20.09 L89.45 23.46 L89.57 26.79 L89.70 30.09 L89.82 33.35 L89.96 36.59 L90.09 39.79 L90.23 42.96 L90.38 46.09 L90.53 49.20 L90.69 52.27 L90.86 55.32 L91.03 58.33 L91.20 61.31 L91.39 64.25 L91.58 67.17 L91.77 70.06 L91.98 72.91 L92.19 75.74 L92.41 78.53 L92.64 81.30 L92.87 84.03 L93.12 86.74 L93.37 89.41 L93.63 92.06 L93.91 94.67 L94.19 97.26 L94.48 99.81 L94.79 102.34 L95.10 104.84 L95.43 107.30 L95.77 109.74 L96.12 112.15 L96.48 114.53 L96.86 116.89 L97.25 119.21 L97.66 121.50 L98.08 123.77 L98.52 126.00 L98.97 128.21 L99.44 130.39 L99.93 132.54 L100.44 134.66 L100.96 136.75 L101.50 138.81 L102.07 140.85 L102.65 142.86 L103.26 144.83 L103.89 146.78 L104.54 148.70 L105.21 150.59 L105.91 152.45 L106.64 154.29 L107.39 156.09 L108.17 157.87 L108.98 159.61 L109.82 161.33 L110.69 163.02 L111.60 164.68 L112.53 166.30 L113.51 167.90 L114.51 169.47 L115.56 171.01 L116.64 172.52 L118.11 174.44 L119.57 176.22 L121.04 177.88 L122.51 179.44 L123.97 180.89 L125.44 182.25 L126.91 183.53 L128.37 184.74 L129.84 185.87 L131.31 186.94 L132.77 187.95 L134.24 188.91 L135.71 189.81 L137.17 190.67 L138.64 191.48 L140.11 192.25 L141.57 192.98 L143.04 193.68 L144.51 194.34 L145.97 194.96 L147.44 195.56 L148.91 196.13 L150.37 196.67 L151.84 197.18 L153.31 197.68 L154.77 198.14 L156.24 198.59 L157.71 199.01 L159.17 199.42 L160.64 199.81 L162.11 200.17 L163.57 200.53 L165.04 200.86 L166.51 201.18 L167.97 201.49 L169.44 201.78 L170.91 202.05 L172.37 202.32 L173.84 202.57 L175.31 202.81 L176.77 203.04 L178.24 203.25 L179.71 203.46 L181.17 203.65 L182.64 203.84 L184.11 204.02 L185.57 204.19 L187.04 204.35 L188.51 204.50 L189.97 204.64 L191.44 204.77 L192.91 204.90 L194.38 205.02 L195.84 205.14 L197.31 205.24 L198.78 205.34 L200.24 205.44 L201.71 205.52 L203.18 205.60 L204.64 205.68 L206.11 205.75 L207.58 205.82 L209.04 205.88 L210.51 205.93 L211.98 205.98 L213.44 206.03 L214.91 206.07 L216.38 206.10 L217.84 206.13 L219.31 206.16 L220.78 206.19 L222.24 206.21 L223.71 206.22 L225.18 206.23 L226.64 206.24 L228.11 206.25 L229.58 206.25 L231.04 206.25 L232.51 206.24 L233.98 206.23 L235.44 206.22 L236.91 206.21 L238.38 206.19 L239.84 206.17 L241.31 206.15 L242.78 206.13 L244.24 206.10 L245.71 206.07 L247.18 206.04 L248.64 206.00 L250.11 205.96 L251.58 205.92 L253.04 205.88 L254.51 205.84 L255.98 205.79 L257.44 205.74 L258.91 205.69 L260.38 205.64 L261.84 205.59 L263.31 205.53 L264.78 205.48 L266.24 205.42 L267.71 205.36 L269.18 205.29 L270.64 205.23 L272.11 205.16 L273.58 205.09 L275.04 205.03 L276.51 204.96 L277.98 204.88 L279.44 204.81 L280.91 204.73 L282.38 204.66 L283.84 204.58 L285.31 204.50 L286.78 204.42 L288.24 204.34 L289.71 204.26 L291.18 204.17 L292.64 204.09 L294.11 204.00 L295.58 203.92 L297.04 203.83 L298.51 203.74 L299.98 203.65 L301.44 203.56 L302.91 203.47 L304.38 203.37 L305.84 203.28 L307.31 203.18 L308.78 203.09 L310.24 202.99 L311.71 202.89 L313.18 202.79 L314.64 202.69 L316.11 202.59 L317.58 202.49 L319.04 202.39 L320.51 202.29 L321.98 202.18 L323.44 202.08 L324.91 201.98 L326.38 201.87 L327.84 201.76 L329.31 201.66 L330.78 201.55 L332.24 201.44 L333.71 201.33 L335.18 201.22 L336.64 201.11 L338.11 201.00 L339.58 200.89 L341.04 200.78 L342.51 200.67 L343.98 200.55 L345.45 200.44 L346.91 200.33 L348.38 200.21 L349.85 200.10 L351.31 199.98 L352.78 199.87 L354.25 199.75 L355.71 199.63 L357.18 199.52 L358.65 199.40 L360.11 199.28 L361.58 199.16 L363.05 199.04 L364.51 198.92 L365.98 198.80 L367.45 198.68 L368.91 198.56 L370.38 198.44 L371.85 198.32 L373.31 198.20 L374.78 198.08 L376.25 197.95 L377.71 197.83 L379.18 197.71 L380.65 197.59 L382.11 197.46 L383.58 197.34 L385.05 197.21 L386.51 197.09 L387.98 196.96 L389.45 196.84 L390.91 196.71 L392.38 196.59 L393.85 196.46 L395.31 196.34 L396.78 196.21 L398.25 196.08 L399.71 195.96 L401.18 195.83 L402.65 195.70 L404.11 195.57 L405.58 195.45 L407.05 195.32 L408.51 195.19 L409.98 195.06 L411.45 194.93 L412.91 194.80 L414.38 194.67 L415.85 194.55 L417.31 194.42 L418.78 194.29 L420.25 194.16 L421.71 194.03 L423.18 193.90 L424.65 193.77 L426.11 193.64 L427.58 193.50 L429.05 193.37 L430.51 193.24 L431.98 193.11 L433.45 192.98 L434.91 192.85 L436.38 192.72 L437.85 192.59 L439.31 192.45 L440.78 192.32 L442.25 192.19 L443.71 192.06 L445.18 191.93 L446.65 191.79 L448.11 191.66 L449.58 191.53 L451.05 191.40 L452.51 191.26 L453.98 191.13 L455.45 191.00 L456.91 190.86 L458.38 190.73 L459.85 190.60 L461.31 190.46 L462.78 190.33 L464.25 190.20 L465.71 190.06 L467.18 189.93 L468.65 189.80 L470.11 189.66 L471.58 189.53 L473.05 189.39 L474.51 189.26 L475.98 189.13 L477.45 188.99 L478.91 188.86 L480.38 188.72 L481.85 188.59 L483.31 188.45 L484.78 188.32 L486.25 188.19 L487.71 188.05 L489.18 187.92 L490.65 187.78 L492.11 187.65 L493.58 187.51 L495.05 187.38 L496.51 187.24" fill="none" stroke="#ff0000" stroke-width="2.5" stroke-linejoin="round"/>
<path d="M63.96 140.06 L64.28 138.87 L64.59 137.67 L64.90 136.44 L65.21 135.20 L65.52 133.94 L65.83 132.65 L66.15 131.34 L66.46 130.01 L66.77 128.66 L67.08 127.28 L67.39 125.87 L67.70 124.45 L68.02 122.99 L68.33 121.50 L68.64 119.99 L68.95 118.45 L69.26 116.87 L69.57 115.26 L69.89 113.62 L70.20 111.94 L70.51 110.22 L70.82 108.47 L71.13 106.67 L71.44 104.83 L71.76 102.95 L72.07 101.02 L72.38 99.04 L72.69 97.01 L73.00 94.92 L73.31 92.78 L73.63 90.57 L73.94 88.31 L74.25 85.97 L74.56 83.57 L74.87 81.08 L75.18 78.52 L75.50 75.87 L75.81 73.13 L76.12 70.30 L76.52 66.46 L76.91 62.59 L77.29 58.70 L77.64 54.77 L77.99 50.82 L78.32 46.84 L78.63 42.82 L78.94 38.78 L79.23 34.70 L79.51 30.59 L79.78 26.44 L80.04 22.27 L80.29 18.05 L80.52 13.80 L80.75 9.52 L80.97 5.20 L81.18 0.84 L81.38 -3.56 L81.58 -8.00 L81.77 -12.47 L81.94 -16.98 L82.12 -21.54 L82.28 -26.13 L82.44 -30.77 L82.59 -35.45 L82.74 -40.17 L82.88 -44.94 L83.01 -49.75 L83.14 -54.61 L83.27 -59.51 L83.39 -64.46 L83.50 -66.65 L83.61 -66.65 L83.72 -66.65 L83.82 -66.65 L83.91 -66.65 L84.01 -66.65 L84.10 -66.65 L84.18 -66.65 L84.26 -66.65 L84.34 -66.65 L84.42 -66.65 L84.49 -66.65 L84.56 -66.65 L84.63 -66.65 L84.70 -66.65 L84.76 -66.65 L84.82 -66.65 L84.87 -66.65 L84.93 -66.65 L84.98 -66.65 L85.03 -66.65 L85.08 -66.65 L85.13 -66.65 L85.17 -66.65 L85.22 -66.65 L85.26 -66.65 L85.30 -66.65 L85.33 -66.65 L85.37 -66.65 L85.41 -66.65 L85.44 -66.65 L85.47 -66.65 L85.50 -66.65 L85.53 -66.65 L85.56 -66.65 L85.59 -66.65 L85.62 -66.65 L85.64 -66.65 L85.67 -66.65 L85.69 -66.65 L85.71 -66.65 L85.73 -66.65 L85.75 -66.65 L85.77 -66.65 L85.79 -66.65 L85.81 -66.65 L85.83 -66.65 L85.84 -66.65 M86.66 -66.65 L86.67 -66.65 L86.69 -66.65 L86.70 -66.65 L86.72 -66.65 L86.74 -66.65 L86.75 -66.65 L86.77 -66.65 L86.79 -66.65 L86.81 -66.65 L86.83 -66.65 L86.85 -66.65 L86.88 -66.65 L86.90 -66.65 L86.92 -66.65 L86.95 -66.65 L86.97 -66.65 L87.00 -66.65 L87.03 -66.65 L87.06 -66.65 L87.09 -66.65 L87.12 -66.65 L87.15 -66.65 L87.18 -66.65 L87.22 -66.65 L87.25 -66.65 L87.29 -66.65 L87.33 -66.65 L87.37 -66.65 L87.41 -66.65 L87.45 -66.65 L87.50 -66.65 L87.54 -66.65 L87.59 -66.65 L87.64 -66.65 L87.69 -66.65 L87.75 -66.65 L87.80 -66.65 L87.86 -66.65 L87.92 -66.65 L87.98 -66.65 L88.04 -66.65 L88.11 -66.65 L88.18 -66.65 L88.25 -66.65 L88.32 -66.65 L88.40 -66.65 L88.48 -66.65 L88.56 -66.65 L88.65 -66.65 L88.74 -66.65 L88.83 -66.65 L88.92 -66.65 L89.02 -66.65 L89.12 -66.65 L89.23 -66.44 L89.34 -62.32 L89.45 -58.24 L89.57 -54.20 L89.70 -50.19 L89.82 -46.23 L89.96 -42.31 L90.09 -38.43 L90.23 -34.58 L90.38 -30.78 L90.53 -27.01 L90.69 -23.28 L90.86 -19.59 L91.03 -15.94 L91.20 -12.33 L91.39 -8.75 L91.58 -5.21 L91.77 -1.71 L91.98 1.75 L92.19 5.18 L92.41 8.57 L92.64 11.92 L92.87 15.24 L93.12 18.52 L93.37 21.76 L93.63 24.97 L93.91 28.14 L94.19 31.28 L94.48 34.38 L94.79 37.45 L95.10 40.47 L95.43 43.47 L95.77 46.43 L96.12 49.35 L96.48 52.24 L96.86 55.09 L97.25 57.91 L97.66 60.69 L98.08 63.44 L98.52 66.15 L98.97 68.83 L99.44 71.47 L99.93 74.08 L100.44 76.65 L100.96 79.19 L101.50 81.69 L102.07 84.16 L102.65 86.59 L103.26 88.99 L103.89 91.35 L104.54 93.68 L105.21 95.98 L105.91 98.23 L106.64 100.46 L107.39 102.65 L108.17 104.80 L108.98 106.92 L109.82 109.00 L110.69 111.05 L111.60 113.06 L112.53 115.03 L113.51 116.97 L114.51 118.88 L115.56 120.74 L116.64 122.58 L118.11 124.90 L119.57 127.06 L121.04 129.08 L122.51 130.96 L123.97 132.72 L125.44 134.38 L126.91 135.93 L128.37 137.39 L129.84 138.77 L131.31 140.07 L132.77 141.29 L134.24 142.45 L135.71 143.55 L137.17 144.59 L138.64 145.57 L140.11 146.51 L141.57 147.39 L143.04 148.23 L144.51 149.04 L145.97 149.80 L147.44 150.52 L148.91 151.21 L150.37 151.87 L151.84 152.49 L153.31 153.09 L154.77 153.65 L156.24 154.19 L157.71 154.71 L159.17 155.20 L160.64 155.67 L162.11 156.12 L163.57 156.54 L165.04 156.95 L166.51 157.34 L167.97 157.71 L169.44 158.06 L170.91 158.40 L172.37 158.72 L173.84 159.02 L175.31 159.31 L176.77 159.59 L178.24 159.85 L179.71 160.10 L181.17 160.34 L182.64 160.57 L184.11 160.78 L185.57 160.98 L187.04 161.18 L188.51 161.36 L189.97 161.53 L191.44 161.70 L192.91 161.85 L194.38 162.00 L195.84 162.13 L197.31 162.26 L198.78 162.38 L200.24 162.50 L201.71 162.60 L203.18 162.70 L204.64 162.80 L206.11 162.88 L207.58 162.96 L209.04 163.03 L210.51 163.10 L211.98 163.16 L213.44 163.21 L214.91 163.26 L216.38 163.31 L217.84 163.35 L219.31 163.38 L220.78 163.41 L222.24 163.43 L223.71 163.45 L225.18 163.47 L226.64 163.48 L228.11 163.48 L229.58 163.49 L231.04 163.48 L232.51 163.48 L233.98 163.47 L235.44 163.45 L236.91 163.44 L238.38 163.42 L239.84 163.39 L241.31 163.37 L242.78 163.34 L244.24 163.30 L245.71 163.27 L247.18 163.23 L248.64 163.18 L250.11 163.14 L251.58 163.09 L253.04 163.04 L254.51 162.99 L255.98 162.93 L257.44 162.87 L258.91 162.81 L260.38 162.75 L261.84 162.68 L263.31 162.62 L264.78 162.55 L266.24 162.48 L267.71 162.40 L269.18 162.33 L270.64 162.25 L272.11 162.17 L273.58 162.09 L275.04 162.00 L276.51 161.92 L277.98 161.83 L279.44 161.74 L280.91 161.65 L282.38 161.56 L283.84 161.46 L285.31 161.37 L286.78 161.27 L288.24 161.17 L289.71 161.07 L291.18 160.97 L292.64 160.87 L294.11 160.76 L295.58 160.66 L297.04 160.55 L298.51 160.44 L299.98 160.33 L301.44 160.22 L302.91 160.11 L304.38 160.00 L305.84 159.88 L307.31 159.77 L308.78 159.65 L310.24 159.53 L311.71 159.41 L313.18 159.29 L314.64 159.17 L316.11 159.05 L317.58 158.93 L319.04 158.81 L320.51 158.68 L321.98 158.56 L323.44 158.43 L324.91 158.30 L326.38 158.17 L327.84 158.05 L329.31 157.92 L330.78 157.79 L332.24 157.65 L333.71 157.52 L335.18 157.39 L336.64 157.26 L338.11 157.12 L339.58 156.99 L341.04 156.85 L342.51 156.72 L343.98 156.58 L345.45 156.44 L346.91 156.30 L348.38 156.16 L349.85 156.02 L351.31 155.88 L352.78 155.74 L354.25 155.60 L355.71 155.46 L357.18 155.32 L358.65 155.18 L360.11 155.03 L361.58 154.89 L363.05 154.74 L364.51 154.60 L365.98 154.45 L367.45 154.31 L368.91 154.16 L370.38 154.02 L371.85 153.87 L373.31 153.72 L374.78 153.57 L376.25 153.42 L377.71 153.28 L379.18 153.13 L380.65 152.98 L382.11 152.83 L383.58 152.68 L385.05 152.53 L386.51 152.38 L387.98 152.22 L389.45 152.07 L390.91 151.92 L392.38 151.77 L393.85 151.61 L395.31 151.46 L396.78 151.31 L398.25 151.15 L399.71 151.00 L401.18 150.85 L402.65 150.69 L404.11 150.54 L405.58 150.38 L407.05 150.23 L408.51 150.07 L409.98 149.92 L411.45 149.76 L412.91 149.60 L414.38 149.45 L415.85 149.29 L417.31 149.13 L418.78 148.98 L420.25 148.82 L421.71 148.66 L423.18 148.50 L424.65 148.34 L426.11 148.19 L427.58 148.03 L429.05 147.87 L430.51 147.71 L431.98 147.55 L433.45 147.39 L434.91 147.23 L436.38 147.07 L437.85 146.91 L439.31 146.75 L440.78 146.59 L442.25 146.43 L443.71 146.27 L445.18 146.11 L446.65 145.95 L448.11 145.79 L449.58 145.63 L451.05 145.47 L452.51 145.31 L453.98 145.15 L455.45 144.99 L456.91 144.82 L458.38 144.66 L459.85 144.50 L461.31 144.34 L462.78 144.18 L464.25 144.01 L465.71 143.85 L467.18 143.69 L468.65 143.53 L470.11 143.37 L471.58 143.20 L473.05 143.04 L474.51 142.88 L475.98 142.72 L477.45 142.55 L478.91 142.39 L480.38 142.23 L481.85 142.06 L483.31 141.90 L484.78 141.74 L486.25 141.57 L487.71 141.41 L489.18 141.25 L490.65 141.08 L492.11 140.92 L493.58 140.76 L495.05 140.59 L496.51 140.43" fill="none" stroke="#0000ff" stroke-width="2.5" stroke-linejoin="round"/>
<path d="M63.96 168.48 L64.28 167.42 L64.59 166.34 L64.90 165.24 L65.21 164.13 L65.52 163.00 L65.83 161.85 L66.15 160.68 L66.46 159.49 L66.77 158.28 L67.08 157.05 L67.39 155.80 L67.70 154.52 L68.02 153.22 L68.33 151.89 L68.64 150.54 L68.95 149.16 L69.26 147.75 L69.57 146.31 L69.89 144.85 L70.20 143.35 L70.51 141.81 L70.82 140.24 L71.13 138.64 L71.44 137.00 L71.76 135.31 L72.07 133.59 L72.38 131.82 L72.69 130.00 L73.00 128.14 L73.31 126.22 L73.63 124.26 L73.94 122.23 L74.25 120.14 L74.56 117.99 L74.87 115.77 L75.18 113.48 L75.50 111.12 L75.81 108.67 L76.12 106.14 L76.52 102.71 L76.91 99.25 L77.29 95.77 L77.64 92.27 L77.99 88.73 L78.32 85.17 L78.63 81.59 L78.94 77.97 L79.23 74.33 L79.51 70.65 L79.78 66.95 L80.04 63.22 L80.29 59.45 L80.52 55.65 L80.75 51.83 L80.97 47.96 L81.18 44.07 L81.38 40.14 L81.58 36.18 L81.77 32.18 L81.94 28.14 L82.12 24.07 L82.28 19.97 L82.44 15.82 L82.59 11.64 L82.74 7.42 L82.88 3.16 L83.01 -1.14 L83.14 -5.47 L83.27 -9.85 L83.39 -14.27 L83.50 -18.74 L83.61 -23.24 L83.72 -27.79 L83.82 -32.38 L83.91 -37.02 L84.01 -41.70 L84.10 -46.43 L84.18 -51.20 L84.26 -56.02 L84.34 -60.89 L84.42 -65.80 L84.49 -66.65 L84.56 -66.65 L84.63 -66.65 L84.70 -66.65 L84.76 -66.65 L84.82 -66.65 L84.87 -66.65 L84.93 -66.65 L84.98 -66.65 L85.03 -66.65 L85.08 -66.65 L85.13 -66.65 L85.17 -66.65 L85.22 -66.65 L85.26 -66.65 L85.30 -66.65 L85.33 -66.65 L85.37 -66.65 L85.41 -66.65 L85.44 -66.65 L85.47 -66.65 L85.50 -66.65 L85.53 -66.65 L85.56 -66.65 L85.59 -66.65 L85.62 -66.65 L85.64 -66.65 L85.67 -66.65 L85.69 -66.65 L85.71 -66.65 L85.73 -66.65 L85.75 -66.65 L85.77 -66.65 L85.79 -66.65 L85.81 -66.65 L85.83 -66.65 L85.84 -66.65 M86.66 -66.65 L86.67 -66.65 L86.69 -66.65 L86.70 -66.65 L86.72 -66.65 L86.74 -66.65 L86.75 -66.65 L86.77 -66.65 L86.79 -66.65 L86.81 -66.65 L86.83 -66.65 L86.85 -66.65 L86.88 -66.65 L86.90 -66.65 L86.92 -66.65 L86.95 -66.65 L86.97 -66.65 L87.00 -66.65 L87.03 -66.65 L87.06 -66.65 L87.09 -66.65 L87.12 -66.65 L87.15 -66.65 L87.18 -66.65 L87.22 -66.65 L87.25 -66.65 L87.29 -66.65 L87.33 -66.65 L87.37 -66.65 L87.41 -66.65 L87.45 -66.65 L87.50 -66.65 L87.54 -66.65 L87.59 -66.65 L87.64 -66.65 L87.69 -66.65 L87.75 -66.65 L87.80 -66.65 L87.86 -66.65 L87.92 -66.65 L87.98 -66.65 L88.04 -66.65 L88.11 -66.65 L88.18 -63.15 L88.25 -59.02 L88.32 -54.92 L88.40 -50.86 L88.48 -46.84 L88.56 -42.86 L88.65 -38.92 L88.74 -35.02 L88.83 -31.15 L88.92 -27.32 L89.02 -23.53 L89.12 -19.77 L89.23 -16.05 L89.34 -12.37 L89.45 -8.72 L89.57 -5.11 L89.70 -1.53 L89.82 2.01 L89.96 5.51 L90.09 8.98 L90.23 12.42 L90.38 15.82 L90.53 19.18 L90.69 22.52 L90.86 25.81 L91.03 29.08 L91.20 32.31 L91.39 35.50 L91.58 38.66 L91.77 41.79 L91.98 44.89 L92.19 47.95 L92.41 50.98 L92.64 53.97 L92.87 56.94 L93.12 59.87 L93.37 62.77 L93.63 65.64 L93.91 68.47 L94.19 71.27 L94.48 74.04 L94.79 76.78 L95.10 79.49 L95.43 82.16 L95.77 84.81 L96.12 87.42 L96.48 90.00 L96.86 92.55 L97.25 95.06 L97.66 97.55 L98.08 100.01 L98.52 102.43 L98.97 104.82 L99.44 107.18 L99.93 109.51 L100.44 111.81 L100.96 114.08 L101.50 116.32 L102.07 118.52 L102.65 120.70 L103.26 122.84 L103.89 124.95 L104.54 127.03 L105.21 129.08 L105.91 131.10 L106.64 133.09 L107.39 135.04 L108.17 136.97 L108.98 138.86 L109.82 140.72 L110.69 142.55 L111.60 144.35 L112.53 146.11 L113.51 147.84 L114.51 149.55 L115.56 151.21 L116.64 152.85 L118.11 154.93 L119.57 156.86 L121.04 158.66 L122.51 160.34 L123.97 161.92 L125.44 163.40 L126.91 164.79 L128.37 166.09 L129.84 167.32 L131.31 168.48 L132.77 169.58 L134.24 170.61 L135.71 171.59 L137.17 172.52 L138.64 173.40 L140.11 174.23 L141.57 175.03 L143.04 175.78 L144.51 176.49 L145.97 177.17 L147.44 177.82 L148.91 178.44 L150.37 179.02 L151.84 179.58 L153.31 180.11 L154.77 180.62 L156.24 181.10 L157.71 181.56 L159.17 182.00 L160.64 182.42 L162.11 182.82 L163.57 183.20 L165.04 183.57 L166.51 183.91 L167.97 184.24 L169.44 184.56 L170.91 184.86 L172.37 185.14 L173.84 185.42 L175.31 185.68 L176.77 185.92 L178.24 186.16 L179.71 186.38 L181.17 186.60 L182.64 186.80 L184.11 186.99 L185.57 187.17 L187.04 187.34 L188.51 187.51 L189.97 187.66 L191.44 187.81 L192.91 187.95 L194.38 188.08 L195.84 188.20 L197.31 188.31 L198.78 188.42 L200.24 188.52 L201.71 188.62 L203.18 188.71 L204.64 188.79 L206.11 188.87 L207.58 188.94 L209.04 189.00 L210.51 189.06 L211.98 189.12 L213.44 189.16 L214.91 189.21 L216.38 189.25 L217.84 189.28 L219.31 189.31 L220.78 189.34 L222.24 189.36 L223.71 189.38 L225.18 189.39 L226.64 189.40 L228.11 189.40 L229.58 189.41 L231.04 189.40 L232.51 189.40 L233.98 189.39 L235.44 189.38 L236.91 189.36 L238.38 189.35 L239.84 189.32 L241.31 189.30 L242.78 189.27 L244.24 189.24 L245.71 189.21 L247.18 189.18 L248.64 189.14 L250.11 189.10 L251.58 189.05 L253.04 189.01 L254.51 188.96 L255.98 188.91 L257.44 188.86 L258.91 188.81 L260.38 188.75 L261.84 188.69 L263.31 188.63 L264.78 188.57 L266.24 188.50 L267.71 188.44 L269.18 188.37 L270.64 188.30 L272.11 188.23 L273.58 188.16 L275.04 188.08 L276.51 188.00 L277.98 187.93 L279.44 187.85 L280.91 187.77 L282.38 187.68 L283.84 187.60 L285.31 187.51 L286.78 187.43 L288.24 187.34 L289.71 187.25 L291.18 187.16 L292.64 187.07 L294.11 186.97 L295.58 186.88 L297.04 186.78 L298.51 186.69 L299.98 186.59 L301.44 186.49 L302.91 186.39 L304.38 186.29 L305.84 186.19 L307.31 186.08 L308.78 185.98 L310.24 185.87 L311.71 185.77 L313.18 185.66 L314.64 185.55 L316.11 185.44 L317.58 185.34 L319.04 185.22 L320.51 185.11 L321.98 185.00 L323.44 184.89 L324.91 184.78 L326.38 184.66 L327.84 184.55 L329.31 184.43 L330.78 184.31 L332.24 184.20 L333.71 184.08 L335.18 183.96 L336.64 183.84 L338.11 183.72 L339.58 183.60 L341.04 183.48 L342.51 183.36 L343.98 183.23 L345.45 183.11 L346.91 182.99 L348.38 182.86 L349.85 182.74 L351.31 182.61 L352.78 182.49 L354.25 182.36 L355.71 182.24 L357.18 182.11 L358.65 181.98 L360.11 181.85 L361.58 181.73 L363.05 181.60 L364.51 181.47 L365.98 181.34 L367.45 181.21 L368.91 181.08 L370.38 180.94 L371.85 180.81 L373.31 180.68 L374.78 180.55 L376.25 180.42 L377.71 180.28 L379.18 180.15 L380.65 180.02 L382.11 179.88 L383.58 179.75 L385.05 179.61 L386.51 179.48 L387.98 179.34 L389.45 179.21 L390.91 179.07 L392.38 178.94 L393.85 178.80 L395.31 178.66 L396.78 178.53 L398.25 178.39 L399.71 178.25 L401.18 178.11 L402.65 177.97 L404.11 177.84 L405.58 177.70 L407.05 177.56 L408.51 177.42 L409.98 177.28 L411.45 177.14 L412.91 177.00 L414.38 176.86 L415.85 176.72 L417.31 176.58 L418.78 176.44 L420.25 176.30 L421.71 176.16 L423.18 176.02 L424.65 175.88 L426.11 175.74 L427.58 175.59 L429.05 175.45 L430.51 175.31 L431.98 175.17 L433.45 175.03 L434.91 174.88 L436.38 174.74 L437.85 174.60 L439.31 174.46 L440.78 174.31 L442.25 174.17 L443.71 174.03 L445.18 173.88 L446.65 173.74 L448.11 173.60 L449.58 173.45 L451.05 173.31 L452.51 173.16 L453.98 173.02 L455.45 172.88 L456.91 172.73 L458.38 172.59 L459.85 172.44 L461.31 172.30 L462.78 172.15 L464.25 172.01 L465.71 171.86 L467.18 171.72 L468.65 171.57 L470.11 171.43 L471.58 171.28 L473.05 171.14 L474.51 170.99 L475.98 170.85 L477.45 170.70 L478.91 170.56 L480.38 170.41 L481.85 170.27 L483.31 170.12 L484.78 169.97 L486.25 169.83 L487.71 169.68 L489.18 169.54 L490.65 169.39 L492.11 169.24 L493.58 169.10 L495.05 168.95 L496.51 168.81" fill="none" stroke="#0000ff" stroke-width="2.5" stroke-linejoin="round"/>
</g>
<path d="M65.99 12.30H491.45V275.46H65.99Z M65.99 275.46v-2.8M65.99 12.30v2.8 M86.25 275.46v-4.8M86.25 12.30v4.8 M106.51 275.46v-2.8M106.51 12.30v2.8 M126.77 275.46v-2.8M126.77 12.30v2.8 M147.03 275.46v-2.8M147.03 12.30v2.8 M167.29 275.46v-2.8M167.29 12.30v2.8 M187.55 275.46v-4.8M187.55 12.30v4.8 M207.81 275.46v-2.8M207.81 12.30v2.8 M228.07 275.46v-2.8M228.07 12.30v2.8 M248.33 275.46v-2.8M248.33 12.30v2.8 M268.59 275.46v-2.8M268.59 12.30v2.8 M288.85 275.46v-4.8M288.85 12.30v4.8 M309.11 275.46v-2.8M309.11 12.30v2.8 M329.37 275.46v-2.8M329.37 12.30v2.8 M349.63 275.46v-2.8M349.63 12.30v2.8 M369.89 275.46v-2.8M369.89 12.30v2.8 M390.15 275.46v-4.8M390.15 12.30v4.8 M410.41 275.46v-2.8M410.41 12.30v2.8 M430.67 275.46v-2.8M430.67 12.30v2.8 M450.93 275.46v-2.8M450.93 12.30v2.8 M471.19 275.46v-2.8M471.19 12.30v2.8 M491.45 275.46v-4.8M491.45 12.30v4.8 M65.99 275.46h4.8M491.45 275.46h-4.8 M65.99 262.30h2.8M491.45 262.30h-2.8 M65.99 249.14h2.8M491.45 249.14h-2.8 M65.99 235.99h2.8M491.45 235.99h-2.8 M65.99 222.83h2.8M491.45 222.83h-2.8 M65.99 209.67h4.8M491.45 209.67h-4.8 M65.99 196.51h2.8M491.45 196.51h-2.8 M65.99 183.35h2.8M491.45 183.35h-2.8 M65.99 170.20h2.8M491.45 170.20h-2.8 M65.99 157.04h2.8M491.45 157.04h-2.8 M65.99 143.88h4.8M491.45 143.88h-4.8 M65.99 130.72h2.8M491.45 130.72h-2.8 M65.99 117.56h2.8M491.45 117.56h-2.8 M65.99 104.41h2.8M491.45 104.41h-2.8 M65.99 91.25h2.8M491.45 91.25h-2.8 M65.99 78.09h4.8M491.45 78.09h-4.8 M65.99 64.93h2.8M491.45 64.93h-2.8 M65.99 51.77h2.8M491.45 51.77h-2.8 M65.99 38.62h2.8M491.45 38.62h-2.8 M65.99 25.46h2.8M491.45 25.46h-2.8 M65.99 12.30h4.8M491.45 12.30h-4.8" fill="none" stroke="#555" stroke-width="0.9"/>
</svg>
<svg width="498" height="340" viewBox="0 0 498 340" style="position:absolute;left:0;top:0;will-change:transform" font-family="'Liberation Serif', serif" font-size="23" fill="#000">
<text x="62.7" y="20" text-anchor="end">3.0</text>
<text x="62.7" y="85" text-anchor="end">2.5</text>
<text x="62.7" y="152" text-anchor="end">2.0</text>
<text x="62.7" y="217" text-anchor="end">1.5</text>
<text x="62.7" y="283" text-anchor="end">1.0</text>
<text x="86.25" y="299" text-anchor="middle">1</text>
<text x="187.55" y="299" text-anchor="middle">2</text>
<text x="288.85" y="299" text-anchor="middle">3</text>
<text x="390.15" y="299" text-anchor="middle">4</text>
<text x="491.45" y="299" text-anchor="middle">5</text>
</svg>
<svg width="498" height="340" viewBox="0 0 498 340" style="position:absolute;left:0;top:0;will-change:transform" font-family="'Liberation Serif', serif" fill="#000">
<rect x="4.3" y="202.35" width="18.5" height="1.3" fill="#000"/>
<rect x="4.3" y="174.85" width="18.5" height="1.3" fill="#000"/>
<rect x="4.3" y="155.65" width="18.5" height="1.3" fill="#000"/>
<rect x="4.3" y="130.25" width="18.5" height="1.3" fill="#000"/>
<rect x="4.3" y="110.85" width="18.5" height="1.3" fill="#000"/>
<rect x="4.3" y="83.25" width="18.5" height="1.3" fill="#000"/>
<rect x="10.95" y="160.40" width="1.3" height="11.0" fill="#000"/>
<rect x="15.45" y="160.40" width="1.3" height="11.0" fill="#000"/>
<rect x="10.95" y="115.70" width="1.3" height="11.0" fill="#000"/>
<rect x="15.45" y="115.70" width="1.3" height="11.0" fill="#000"/>
<text transform="translate(19.8 201.21) rotate(-90)" font-size="23">Γ</text>
<text transform="translate(19.8 154.11) rotate(-90)" font-size="23">Γ</text>
<text transform="translate(19.8 109.61) rotate(-90)" font-size="23">Γ</text>
<text transform="translate(22.4 188.00) rotate(-90) scale(1.15 1)" font-size="16" font-style="italic">μ</text>
<text transform="translate(23.0 140.87) rotate(-90) scale(1.0 1)" font-size="16" font-style="italic">s</text>
<text transform="translate(22.7 96.25) rotate(-90) scale(1.0 1)" font-size="16" font-style="italic">b</text>
<text transform="translate(245.11 330.6) scale(1.0 1)" font-size="22" font-style="italic">m</text>
<text transform="translate(261.68 333.3) scale(0.91 1)" font-size="15.4">Φ</text>
<text transform="translate(270.65 336.4) scale(1.0 1)" font-size="12" font-style="italic">ℓ</text>
<path d="M278.4 334.2 L284.4 316.1" stroke="#000" stroke-width="1.25" fill="none"/>
<text transform="translate(285.61 330.6) scale(1.0 1)" font-size="22" font-style="italic">m</text>
<text transform="translate(301.67 333.5) scale(0.78 1)" font-size="15.2">Ψ</text>
</svg>

</div></body></html>
